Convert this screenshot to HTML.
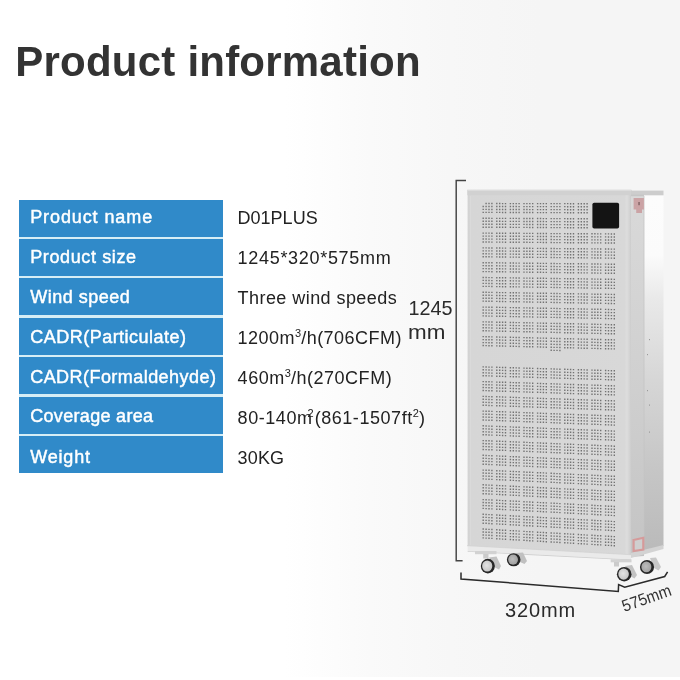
<!DOCTYPE html>
<html><head><meta charset="utf-8">
<style>
html,body{margin:0;padding:0}
body{width:680px;height:680px;overflow:hidden;position:relative;
 background:linear-gradient(to right,#ffffff 0px,#ffffff 285px,#fafafa 370px,#f7f7f7 450px,#f5f5f5 540px,#f5f5f5 680px);
 font-family:"Liberation Sans",sans-serif}
.bot{position:absolute;left:0;top:677px;width:680px;height:3px;background:#fff}
.title{position:absolute;left:15.3px;top:41.2px;font-size:42px;line-height:42px;font-weight:bold;color:#333;letter-spacing:0.22px;white-space:nowrap;filter:grayscale(1)}
.cell{position:absolute;left:19.2px;width:204.3px;height:37.0px;background:#308ac9}
.tl{position:absolute;left:30.2px;font-size:18px;line-height:18px;color:#fff;white-space:nowrap;-webkit-text-stroke:0.45px #fff;filter:grayscale(1)}
.tr{position:absolute;left:237.6px;font-size:18px;line-height:18px;color:#222;white-space:nowrap;filter:grayscale(1)}
sup{font-size:11px;line-height:0;vertical-align:0;position:relative;top:-7px;letter-spacing:0}
sup.sq{margin-left:-5px;margin-right:1px}
.dim{position:absolute;font-size:20px;line-height:20px;color:#2a2a2a;white-space:nowrap;filter:grayscale(1)}
</style></head><body>
<div class="bot"></div>
<div style="position:absolute;left:19.2px;top:199.5px;width:204.3px;height:273.4px;background:#d6eef6"></div>
<div class="title">Product information</div>
<div class="cell" style="top:199.50px"></div><div class="cell" style="top:238.90px"></div><div class="cell" style="top:278.30px"></div><div class="cell" style="top:317.70px"></div><div class="cell" style="top:357.10px"></div><div class="cell" style="top:396.50px"></div><div class="cell" style="top:435.90px"></div><div class="tl" style="top:208.06px;letter-spacing:0.9px">Product name</div><div class="tl" style="top:248.06px;letter-spacing:0.62px">Product size</div><div class="tl" style="top:287.56px;letter-spacing:0.5px">Wind speed</div><div class="tl" style="top:328.26px;letter-spacing:0.49px">CADR(Particulate)</div><div class="tl" style="top:367.96px;letter-spacing:0.45px">CADR(Formaldehyde)</div><div class="tl" style="top:407.36px;letter-spacing:0.32px">Coverage area</div><div class="tl" style="top:447.56px;letter-spacing:0.82px">Weight</div><div class="tr" style="top:209.01px;letter-spacing:0.0px">D01PLUS</div><div class="tr" style="top:249.26px;letter-spacing:0.69px">1245*320*575mm</div><div class="tr" style="top:288.56px;letter-spacing:0.44px">Three wind speeds</div><div class="tr" style="top:329.16px;letter-spacing:0.48px">1200m<sup>3</sup>/h(706CFM)</div><div class="tr" style="top:368.56px;letter-spacing:0.53px">460m<sup>3</sup>/h(270CFM)</div><div class="tr" style="top:408.86px;letter-spacing:0.55px">80-140m<sup class='sq'>2</sup>(861-1507ft<sup>2</sup>)</div><div class="tr" style="top:448.76px;letter-spacing:0.13px">30KG</div>

<svg width="680" height="680" viewBox="0 0 680 680" style="position:absolute;left:0;top:0">
<defs>
 <linearGradient id="face" gradientUnits="userSpaceOnUse" x1="467.6" y1="0" x2="631" y2="0">
  <stop offset="0" stop-color="#d2d2d2"/><stop offset="0.02" stop-color="#d6d6d6"/><stop offset="0.6" stop-color="#d7d7d7"/><stop offset="0.96" stop-color="#d8d8d8"/><stop offset="0.975" stop-color="#dddddd"/><stop offset="0.99" stop-color="#d4d4d4"/><stop offset="1" stop-color="#cccccc"/>
 </linearGradient>
 <linearGradient id="side" gradientUnits="userSpaceOnUse" x1="0" y1="196" x2="0" y2="551">
  <stop offset="0" stop-color="#fcfcfc"/><stop offset="0.166" stop-color="#fbfbfb"/><stop offset="0.29" stop-color="#e9e9e9"/><stop offset="0.52" stop-color="#d6d6d6"/><stop offset="0.77" stop-color="#c6c6c6"/><stop offset="1" stop-color="#bababa"/>
 </linearGradient>
 <linearGradient id="strip" gradientUnits="userSpaceOnUse" x1="0" y1="196" x2="0" y2="556">
  <stop offset="0" stop-color="#d9d9d9"/><stop offset="0.5" stop-color="#d0d0d0"/><stop offset="1" stop-color="#c4c4c4"/>
 </linearGradient>
 <radialGradient id="hubL" cx="0.45" cy="0.45" r="0.6">
  <stop offset="0" stop-color="#e4e4e4"/><stop offset="1" stop-color="#c4c4c4"/>
 </radialGradient>
 <radialGradient id="hubD" cx="0.45" cy="0.45" r="0.6">
  <stop offset="0" stop-color="#bdbdbd"/><stop offset="1" stop-color="#9e9e9e"/>
 </radialGradient>
</defs>
<!-- side panel -->
<polygon points="644,196 663.5,196 663.5,546 644,551" fill="url(#side)"/>
<polygon points="631,196 644,196 644,556 631,557" fill="url(#strip)"/>
<line x1="644" y1="196" x2="644" y2="553" stroke="#c4c4c4" stroke-width="0.8"/>
<!-- side base band -->
<polygon points="631,553 663.5,545 663.5,549 631,558" fill="#d3d3d3"/>
<!-- front face -->
<polygon points="467.6,195 631,195 631,555.0 467.6,546.0" fill="url(#face)"/>
<line x1="470.5" y1="196" x2="470.5" y2="545" stroke="#dadada" stroke-width="0.8"/>

<!-- front base band -->
<polygon points="467.6,546.0 631,555.0 631,559.5 467.6,551" fill="#eaeaea"/>
<line x1="467" y1="545.7" x2="631" y2="554.7" stroke="#d3d3d3" stroke-width="0.8"/>
<polygon points="467.6,551 631,559.5 631,560.3 467.6,551.8" fill="#cfcfcf"/>
<!-- top cap -->
<rect x="467.2" y="189.8" width="164.3" height="5.4" fill="#d1d1d1"/>
<rect x="467.2" y="189.8" width="164.3" height="1.2" fill="#dcdcdc"/>
<rect x="631" y="190.6" width="32.5" height="4.6" fill="#cdcdcd"/>
<rect x="631" y="194.6" width="13" height="1.6" fill="#c6c6c6"/>
<!-- display -->
<rect x="592.4" y="202.8" width="26.7" height="25.8" rx="1.8" fill="#141414"/>
<!-- stickers -->
<path d="M633.6 197.9h10.3v11.7h-1.9v3.5h-5.8v-3.5h-2.6z" fill="#cba3a5"/>
<rect x="638.4" y="202" width="1.3" height="3.2" fill="#7a5c5e"/>
<polygon points="633.6,540 643.3,537.8 643.3,549.5 633.6,551" fill="#cfcfcf" stroke="#d59a9a" stroke-width="2.2"/>
<!-- dots -->
<path d="M485.4 202.8h1.4v1.4h-1.4zM488.3 202.8h1.4v1.4h-1.4zM491.2 202.8h1.4v1.4h-1.4zM482.5 205.8h1.4v1.4h-1.4zM485.4 205.8h1.4v1.4h-1.4zM488.3 205.8h1.4v1.4h-1.4zM491.2 205.8h1.4v1.4h-1.4zM482.5 208.7h1.4v1.4h-1.4zM485.4 208.7h1.4v1.4h-1.4zM488.3 208.8h1.4v1.4h-1.4zM491.2 208.8h1.4v1.4h-1.4zM482.5 211.7h1.4v1.4h-1.4zM485.4 211.7h1.4v1.4h-1.4zM488.3 211.7h1.4v1.4h-1.4zM491.2 211.7h1.4v1.4h-1.4zM496.1 202.8h1.4v1.4h-1.4zM499.0 202.8h1.4v1.4h-1.4zM501.9 202.9h1.4v1.4h-1.4zM504.8 202.9h1.4v1.4h-1.4zM496.1 205.8h1.4v1.4h-1.4zM499.0 205.8h1.4v1.4h-1.4zM501.9 205.8h1.4v1.4h-1.4zM504.8 205.8h1.4v1.4h-1.4zM496.1 208.8h1.4v1.4h-1.4zM499.0 208.8h1.4v1.4h-1.4zM501.9 208.8h1.4v1.4h-1.4zM504.8 208.8h1.4v1.4h-1.4zM496.1 211.7h1.4v1.4h-1.4zM499.0 211.7h1.4v1.4h-1.4zM501.9 211.8h1.4v1.4h-1.4zM504.8 211.8h1.4v1.4h-1.4zM509.7 202.9h1.4v1.4h-1.4zM512.6 202.9h1.4v1.4h-1.4zM515.5 202.9h1.4v1.4h-1.4zM518.4 202.9h1.4v1.4h-1.4zM509.7 205.8h1.4v1.4h-1.4zM512.6 205.8h1.4v1.4h-1.4zM515.5 205.8h1.4v1.4h-1.4zM518.4 205.9h1.4v1.4h-1.4zM509.7 208.8h1.4v1.4h-1.4zM512.6 208.8h1.4v1.4h-1.4zM515.5 208.8h1.4v1.4h-1.4zM518.4 208.8h1.4v1.4h-1.4zM509.7 211.8h1.4v1.4h-1.4zM512.6 211.8h1.4v1.4h-1.4zM515.5 211.8h1.4v1.4h-1.4zM518.4 211.8h1.4v1.4h-1.4zM523.3 202.9h1.4v1.4h-1.4zM526.2 202.9h1.4v1.4h-1.4zM529.1 202.9h1.4v1.4h-1.4zM532.0 202.9h1.4v1.4h-1.4zM523.3 205.9h1.4v1.4h-1.4zM526.2 205.9h1.4v1.4h-1.4zM529.1 205.9h1.4v1.4h-1.4zM532.0 205.9h1.4v1.4h-1.4zM523.3 208.8h1.4v1.4h-1.4zM526.2 208.8h1.4v1.4h-1.4zM529.1 208.9h1.4v1.4h-1.4zM532.0 208.9h1.4v1.4h-1.4zM523.3 211.8h1.4v1.4h-1.4zM526.2 211.8h1.4v1.4h-1.4zM529.1 211.8h1.4v1.4h-1.4zM532.0 211.8h1.4v1.4h-1.4zM536.9 202.9h1.4v1.4h-1.4zM539.8 202.9h1.4v1.4h-1.4zM542.7 202.9h1.4v1.4h-1.4zM545.6 202.9h1.4v1.4h-1.4zM536.9 205.9h1.4v1.4h-1.4zM539.8 205.9h1.4v1.4h-1.4zM542.7 205.9h1.4v1.4h-1.4zM545.6 205.9h1.4v1.4h-1.4zM536.9 208.9h1.4v1.4h-1.4zM539.8 208.9h1.4v1.4h-1.4zM542.7 208.9h1.4v1.4h-1.4zM545.6 208.9h1.4v1.4h-1.4zM536.9 211.9h1.4v1.4h-1.4zM539.8 211.9h1.4v1.4h-1.4zM542.7 211.9h1.4v1.4h-1.4zM545.6 211.9h1.4v1.4h-1.4zM550.5 202.9h1.4v1.4h-1.4zM553.4 202.9h1.4v1.4h-1.4zM556.3 202.9h1.4v1.4h-1.4zM559.2 202.9h1.4v1.4h-1.4zM550.5 205.9h1.4v1.4h-1.4zM553.4 205.9h1.4v1.4h-1.4zM556.3 205.9h1.4v1.4h-1.4zM559.2 205.9h1.4v1.4h-1.4zM550.5 208.9h1.4v1.4h-1.4zM553.4 208.9h1.4v1.4h-1.4zM556.3 208.9h1.4v1.4h-1.4zM559.2 208.9h1.4v1.4h-1.4zM550.5 211.9h1.4v1.4h-1.4zM553.4 211.9h1.4v1.4h-1.4zM556.3 211.9h1.4v1.4h-1.4zM559.2 211.9h1.4v1.4h-1.4zM564.1 202.9h1.4v1.4h-1.4zM567.0 202.9h1.4v1.4h-1.4zM569.9 203.0h1.4v1.4h-1.4zM572.8 203.0h1.4v1.4h-1.4zM564.1 205.9h1.4v1.4h-1.4zM567.0 206.0h1.4v1.4h-1.4zM569.9 206.0h1.4v1.4h-1.4zM572.8 206.0h1.4v1.4h-1.4zM564.1 208.9h1.4v1.4h-1.4zM567.0 209.0h1.4v1.4h-1.4zM569.9 209.0h1.4v1.4h-1.4zM572.8 209.0h1.4v1.4h-1.4zM564.1 211.9h1.4v1.4h-1.4zM567.0 212.0h1.4v1.4h-1.4zM569.9 212.0h1.4v1.4h-1.4zM572.8 212.0h1.4v1.4h-1.4zM577.7 203.0h1.4v1.4h-1.4zM580.6 203.0h1.4v1.4h-1.4zM583.5 203.0h1.4v1.4h-1.4zM586.4 203.0h1.4v1.4h-1.4zM577.7 206.0h1.4v1.4h-1.4zM580.6 206.0h1.4v1.4h-1.4zM583.5 206.0h1.4v1.4h-1.4zM586.4 206.0h1.4v1.4h-1.4zM577.7 209.0h1.4v1.4h-1.4zM580.6 209.0h1.4v1.4h-1.4zM583.5 209.0h1.4v1.4h-1.4zM586.4 209.0h1.4v1.4h-1.4zM577.7 212.0h1.4v1.4h-1.4zM580.6 212.0h1.4v1.4h-1.4zM583.5 212.0h1.4v1.4h-1.4zM586.4 212.0h1.4v1.4h-1.4zM482.5 217.6h1.4v1.4h-1.4zM485.4 217.6h1.4v1.4h-1.4zM488.3 217.6h1.4v1.4h-1.4zM491.2 217.7h1.4v1.4h-1.4zM482.5 220.6h1.4v1.4h-1.4zM485.4 220.6h1.4v1.4h-1.4zM488.3 220.6h1.4v1.4h-1.4zM491.2 220.6h1.4v1.4h-1.4zM482.5 223.5h1.4v1.4h-1.4zM485.4 223.5h1.4v1.4h-1.4zM488.3 223.6h1.4v1.4h-1.4zM491.2 223.6h1.4v1.4h-1.4zM482.5 226.5h1.4v1.4h-1.4zM485.4 226.5h1.4v1.4h-1.4zM488.3 226.5h1.4v1.4h-1.4zM491.2 226.5h1.4v1.4h-1.4zM496.1 217.7h1.4v1.4h-1.4zM499.0 217.7h1.4v1.4h-1.4zM501.9 217.7h1.4v1.4h-1.4zM504.8 217.7h1.4v1.4h-1.4zM496.1 220.6h1.4v1.4h-1.4zM499.0 220.6h1.4v1.4h-1.4zM501.9 220.7h1.4v1.4h-1.4zM504.8 220.7h1.4v1.4h-1.4zM496.1 223.6h1.4v1.4h-1.4zM499.0 223.6h1.4v1.4h-1.4zM501.9 223.6h1.4v1.4h-1.4zM504.8 223.6h1.4v1.4h-1.4zM496.1 226.6h1.4v1.4h-1.4zM499.0 226.6h1.4v1.4h-1.4zM501.9 226.6h1.4v1.4h-1.4zM504.8 226.6h1.4v1.4h-1.4zM509.7 217.7h1.4v1.4h-1.4zM512.6 217.7h1.4v1.4h-1.4zM515.5 217.7h1.4v1.4h-1.4zM518.4 217.8h1.4v1.4h-1.4zM509.7 220.7h1.4v1.4h-1.4zM512.6 220.7h1.4v1.4h-1.4zM515.5 220.7h1.4v1.4h-1.4zM518.4 220.7h1.4v1.4h-1.4zM509.7 223.7h1.4v1.4h-1.4zM512.6 223.7h1.4v1.4h-1.4zM515.5 223.7h1.4v1.4h-1.4zM518.4 223.7h1.4v1.4h-1.4zM509.7 226.6h1.4v1.4h-1.4zM512.6 226.7h1.4v1.4h-1.4zM515.5 226.7h1.4v1.4h-1.4zM518.4 226.7h1.4v1.4h-1.4zM523.3 217.8h1.4v1.4h-1.4zM526.2 217.8h1.4v1.4h-1.4zM529.1 217.8h1.4v1.4h-1.4zM532.0 217.8h1.4v1.4h-1.4zM523.3 220.8h1.4v1.4h-1.4zM526.2 220.8h1.4v1.4h-1.4zM529.1 220.8h1.4v1.4h-1.4zM532.0 220.8h1.4v1.4h-1.4zM523.3 223.7h1.4v1.4h-1.4zM526.2 223.8h1.4v1.4h-1.4zM529.1 223.8h1.4v1.4h-1.4zM532.0 223.8h1.4v1.4h-1.4zM523.3 226.7h1.4v1.4h-1.4zM526.2 226.7h1.4v1.4h-1.4zM529.1 226.8h1.4v1.4h-1.4zM532.0 226.8h1.4v1.4h-1.4zM536.9 217.8h1.4v1.4h-1.4zM539.8 217.8h1.4v1.4h-1.4zM542.7 217.9h1.4v1.4h-1.4zM545.6 217.9h1.4v1.4h-1.4zM536.9 220.8h1.4v1.4h-1.4zM539.8 220.8h1.4v1.4h-1.4zM542.7 220.8h1.4v1.4h-1.4zM545.6 220.9h1.4v1.4h-1.4zM536.9 223.8h1.4v1.4h-1.4zM539.8 223.8h1.4v1.4h-1.4zM542.7 223.8h1.4v1.4h-1.4zM545.6 223.9h1.4v1.4h-1.4zM536.9 226.8h1.4v1.4h-1.4zM539.8 226.8h1.4v1.4h-1.4zM542.7 226.8h1.4v1.4h-1.4zM545.6 226.8h1.4v1.4h-1.4zM550.5 217.9h1.4v1.4h-1.4zM553.4 217.9h1.4v1.4h-1.4zM556.3 217.9h1.4v1.4h-1.4zM559.2 217.9h1.4v1.4h-1.4zM550.5 220.9h1.4v1.4h-1.4zM553.4 220.9h1.4v1.4h-1.4zM556.3 220.9h1.4v1.4h-1.4zM559.2 220.9h1.4v1.4h-1.4zM550.5 223.9h1.4v1.4h-1.4zM553.4 223.9h1.4v1.4h-1.4zM556.3 223.9h1.4v1.4h-1.4zM559.2 223.9h1.4v1.4h-1.4zM550.5 226.9h1.4v1.4h-1.4zM553.4 226.9h1.4v1.4h-1.4zM556.3 226.9h1.4v1.4h-1.4zM559.2 226.9h1.4v1.4h-1.4zM564.1 217.9h1.4v1.4h-1.4zM567.0 218.0h1.4v1.4h-1.4zM569.9 218.0h1.4v1.4h-1.4zM572.8 218.0h1.4v1.4h-1.4zM564.1 220.9h1.4v1.4h-1.4zM567.0 221.0h1.4v1.4h-1.4zM569.9 221.0h1.4v1.4h-1.4zM572.8 221.0h1.4v1.4h-1.4zM564.1 223.9h1.4v1.4h-1.4zM567.0 224.0h1.4v1.4h-1.4zM569.9 224.0h1.4v1.4h-1.4zM572.8 224.0h1.4v1.4h-1.4zM564.1 226.9h1.4v1.4h-1.4zM567.0 227.0h1.4v1.4h-1.4zM569.9 227.0h1.4v1.4h-1.4zM572.8 227.0h1.4v1.4h-1.4zM577.7 218.0h1.4v1.4h-1.4zM580.6 218.0h1.4v1.4h-1.4zM583.5 218.0h1.4v1.4h-1.4zM586.4 218.0h1.4v1.4h-1.4zM577.7 221.0h1.4v1.4h-1.4zM580.6 221.0h1.4v1.4h-1.4zM583.5 221.0h1.4v1.4h-1.4zM586.4 221.0h1.4v1.4h-1.4zM577.7 224.0h1.4v1.4h-1.4zM580.6 224.0h1.4v1.4h-1.4zM583.5 224.0h1.4v1.4h-1.4zM586.4 224.1h1.4v1.4h-1.4zM577.7 227.0h1.4v1.4h-1.4zM580.6 227.0h1.4v1.4h-1.4zM583.5 227.1h1.4v1.4h-1.4zM586.4 227.1h1.4v1.4h-1.4zM482.5 232.4h1.4v1.4h-1.4zM485.4 232.4h1.4v1.4h-1.4zM488.3 232.4h1.4v1.4h-1.4zM491.2 232.5h1.4v1.4h-1.4zM482.5 235.4h1.4v1.4h-1.4zM485.4 235.4h1.4v1.4h-1.4zM488.3 235.4h1.4v1.4h-1.4zM491.2 235.4h1.4v1.4h-1.4zM482.5 238.3h1.4v1.4h-1.4zM485.4 238.3h1.4v1.4h-1.4zM488.3 238.4h1.4v1.4h-1.4zM491.2 238.4h1.4v1.4h-1.4zM482.5 241.3h1.4v1.4h-1.4zM485.4 241.3h1.4v1.4h-1.4zM488.3 241.3h1.4v1.4h-1.4zM491.2 241.4h1.4v1.4h-1.4zM496.1 232.5h1.4v1.4h-1.4zM499.0 232.5h1.4v1.4h-1.4zM501.9 232.5h1.4v1.4h-1.4zM504.8 232.6h1.4v1.4h-1.4zM496.1 235.5h1.4v1.4h-1.4zM499.0 235.5h1.4v1.4h-1.4zM501.9 235.5h1.4v1.4h-1.4zM504.8 235.5h1.4v1.4h-1.4zM496.1 238.4h1.4v1.4h-1.4zM499.0 238.4h1.4v1.4h-1.4zM501.9 238.5h1.4v1.4h-1.4zM504.8 238.5h1.4v1.4h-1.4zM496.1 241.4h1.4v1.4h-1.4zM499.0 241.4h1.4v1.4h-1.4zM501.9 241.4h1.4v1.4h-1.4zM504.8 241.5h1.4v1.4h-1.4zM509.7 232.6h1.4v1.4h-1.4zM512.6 232.6h1.4v1.4h-1.4zM515.5 232.6h1.4v1.4h-1.4zM518.4 232.6h1.4v1.4h-1.4zM509.7 235.6h1.4v1.4h-1.4zM512.6 235.6h1.4v1.4h-1.4zM515.5 235.6h1.4v1.4h-1.4zM518.4 235.6h1.4v1.4h-1.4zM509.7 238.5h1.4v1.4h-1.4zM512.6 238.6h1.4v1.4h-1.4zM515.5 238.6h1.4v1.4h-1.4zM518.4 238.6h1.4v1.4h-1.4zM509.7 241.5h1.4v1.4h-1.4zM512.6 241.5h1.4v1.4h-1.4zM515.5 241.6h1.4v1.4h-1.4zM518.4 241.6h1.4v1.4h-1.4zM523.3 232.7h1.4v1.4h-1.4zM526.2 232.7h1.4v1.4h-1.4zM529.1 232.7h1.4v1.4h-1.4zM532.0 232.7h1.4v1.4h-1.4zM523.3 235.7h1.4v1.4h-1.4zM526.2 235.7h1.4v1.4h-1.4zM529.1 235.7h1.4v1.4h-1.4zM532.0 235.7h1.4v1.4h-1.4zM523.3 238.6h1.4v1.4h-1.4zM526.2 238.7h1.4v1.4h-1.4zM529.1 238.7h1.4v1.4h-1.4zM532.0 238.7h1.4v1.4h-1.4zM523.3 241.6h1.4v1.4h-1.4zM526.2 241.6h1.4v1.4h-1.4zM529.1 241.7h1.4v1.4h-1.4zM532.0 241.7h1.4v1.4h-1.4zM536.9 232.8h1.4v1.4h-1.4zM539.8 232.8h1.4v1.4h-1.4zM542.7 232.8h1.4v1.4h-1.4zM545.6 232.8h1.4v1.4h-1.4zM536.9 235.8h1.4v1.4h-1.4zM539.8 235.8h1.4v1.4h-1.4zM542.7 235.8h1.4v1.4h-1.4zM545.6 235.8h1.4v1.4h-1.4zM536.9 238.7h1.4v1.4h-1.4zM539.8 238.8h1.4v1.4h-1.4zM542.7 238.8h1.4v1.4h-1.4zM545.6 238.8h1.4v1.4h-1.4zM536.9 241.7h1.4v1.4h-1.4zM539.8 241.7h1.4v1.4h-1.4zM542.7 241.8h1.4v1.4h-1.4zM545.6 241.8h1.4v1.4h-1.4zM550.5 232.9h1.4v1.4h-1.4zM553.4 232.9h1.4v1.4h-1.4zM556.3 232.9h1.4v1.4h-1.4zM559.2 232.9h1.4v1.4h-1.4zM550.5 235.8h1.4v1.4h-1.4zM553.4 235.9h1.4v1.4h-1.4zM556.3 235.9h1.4v1.4h-1.4zM559.2 235.9h1.4v1.4h-1.4zM550.5 238.8h1.4v1.4h-1.4zM553.4 238.9h1.4v1.4h-1.4zM556.3 238.9h1.4v1.4h-1.4zM559.2 238.9h1.4v1.4h-1.4zM550.5 241.8h1.4v1.4h-1.4zM553.4 241.9h1.4v1.4h-1.4zM556.3 241.9h1.4v1.4h-1.4zM559.2 241.9h1.4v1.4h-1.4zM564.1 232.9h1.4v1.4h-1.4zM567.0 233.0h1.4v1.4h-1.4zM569.9 233.0h1.4v1.4h-1.4zM572.8 233.0h1.4v1.4h-1.4zM564.1 235.9h1.4v1.4h-1.4zM567.0 236.0h1.4v1.4h-1.4zM569.9 236.0h1.4v1.4h-1.4zM572.8 236.0h1.4v1.4h-1.4zM564.1 238.9h1.4v1.4h-1.4zM567.0 239.0h1.4v1.4h-1.4zM569.9 239.0h1.4v1.4h-1.4zM572.8 239.0h1.4v1.4h-1.4zM564.1 241.9h1.4v1.4h-1.4zM567.0 242.0h1.4v1.4h-1.4zM569.9 242.0h1.4v1.4h-1.4zM572.8 242.0h1.4v1.4h-1.4zM577.7 233.0h1.4v1.4h-1.4zM580.6 233.1h1.4v1.4h-1.4zM583.5 233.1h1.4v1.4h-1.4zM586.4 233.1h1.4v1.4h-1.4zM577.7 236.0h1.4v1.4h-1.4zM580.6 236.1h1.4v1.4h-1.4zM583.5 236.1h1.4v1.4h-1.4zM586.4 236.1h1.4v1.4h-1.4zM577.7 239.0h1.4v1.4h-1.4zM580.6 239.1h1.4v1.4h-1.4zM583.5 239.1h1.4v1.4h-1.4zM586.4 239.1h1.4v1.4h-1.4zM577.7 242.1h1.4v1.4h-1.4zM580.6 242.1h1.4v1.4h-1.4zM583.5 242.1h1.4v1.4h-1.4zM586.4 242.1h1.4v1.4h-1.4zM591.3 233.1h1.4v1.4h-1.4zM594.2 233.1h1.4v1.4h-1.4zM597.1 233.2h1.4v1.4h-1.4zM600.0 233.2h1.4v1.4h-1.4zM591.3 236.1h1.4v1.4h-1.4zM594.2 236.2h1.4v1.4h-1.4zM597.1 236.2h1.4v1.4h-1.4zM600.0 236.2h1.4v1.4h-1.4zM591.3 239.2h1.4v1.4h-1.4zM594.2 239.2h1.4v1.4h-1.4zM597.1 239.2h1.4v1.4h-1.4zM600.0 239.2h1.4v1.4h-1.4zM591.3 242.2h1.4v1.4h-1.4zM594.2 242.2h1.4v1.4h-1.4zM597.1 242.2h1.4v1.4h-1.4zM600.0 242.2h1.4v1.4h-1.4zM604.9 233.2h1.4v1.4h-1.4zM607.8 233.2h1.4v1.4h-1.4zM610.7 233.3h1.4v1.4h-1.4zM613.6 233.3h1.4v1.4h-1.4zM604.9 236.2h1.4v1.4h-1.4zM607.8 236.3h1.4v1.4h-1.4zM610.7 236.3h1.4v1.4h-1.4zM613.6 236.3h1.4v1.4h-1.4zM604.9 239.3h1.4v1.4h-1.4zM607.8 239.3h1.4v1.4h-1.4zM610.7 239.3h1.4v1.4h-1.4zM613.6 239.3h1.4v1.4h-1.4zM604.9 242.3h1.4v1.4h-1.4zM607.8 242.3h1.4v1.4h-1.4zM610.7 242.3h1.4v1.4h-1.4zM613.6 242.3h1.4v1.4h-1.4zM482.5 247.2h1.4v1.4h-1.4zM485.4 247.2h1.4v1.4h-1.4zM488.3 247.3h1.4v1.4h-1.4zM491.2 247.3h1.4v1.4h-1.4zM482.5 250.2h1.4v1.4h-1.4zM485.4 250.2h1.4v1.4h-1.4zM488.3 250.2h1.4v1.4h-1.4zM491.2 250.2h1.4v1.4h-1.4zM482.5 253.1h1.4v1.4h-1.4zM485.4 253.1h1.4v1.4h-1.4zM488.3 253.2h1.4v1.4h-1.4zM491.2 253.2h1.4v1.4h-1.4zM482.5 256.1h1.4v1.4h-1.4zM485.4 256.1h1.4v1.4h-1.4zM488.3 256.1h1.4v1.4h-1.4zM491.2 256.2h1.4v1.4h-1.4zM496.1 247.3h1.4v1.4h-1.4zM499.0 247.3h1.4v1.4h-1.4zM501.9 247.4h1.4v1.4h-1.4zM504.8 247.4h1.4v1.4h-1.4zM496.1 250.3h1.4v1.4h-1.4zM499.0 250.3h1.4v1.4h-1.4zM501.9 250.3h1.4v1.4h-1.4zM504.8 250.4h1.4v1.4h-1.4zM496.1 253.3h1.4v1.4h-1.4zM499.0 253.3h1.4v1.4h-1.4zM501.9 253.3h1.4v1.4h-1.4zM504.8 253.3h1.4v1.4h-1.4zM496.1 256.2h1.4v1.4h-1.4zM499.0 256.3h1.4v1.4h-1.4zM501.9 256.3h1.4v1.4h-1.4zM504.8 256.3h1.4v1.4h-1.4zM509.7 247.4h1.4v1.4h-1.4zM512.6 247.5h1.4v1.4h-1.4zM515.5 247.5h1.4v1.4h-1.4zM518.4 247.5h1.4v1.4h-1.4zM509.7 250.4h1.4v1.4h-1.4zM512.6 250.4h1.4v1.4h-1.4zM515.5 250.5h1.4v1.4h-1.4zM518.4 250.5h1.4v1.4h-1.4zM509.7 253.4h1.4v1.4h-1.4zM512.6 253.4h1.4v1.4h-1.4zM515.5 253.5h1.4v1.4h-1.4zM518.4 253.5h1.4v1.4h-1.4zM509.7 256.4h1.4v1.4h-1.4zM512.6 256.4h1.4v1.4h-1.4zM515.5 256.4h1.4v1.4h-1.4zM518.4 256.5h1.4v1.4h-1.4zM523.3 247.6h1.4v1.4h-1.4zM526.2 247.6h1.4v1.4h-1.4zM529.1 247.6h1.4v1.4h-1.4zM532.0 247.7h1.4v1.4h-1.4zM523.3 250.6h1.4v1.4h-1.4zM526.2 250.6h1.4v1.4h-1.4zM529.1 250.6h1.4v1.4h-1.4zM532.0 250.6h1.4v1.4h-1.4zM523.3 253.5h1.4v1.4h-1.4zM526.2 253.6h1.4v1.4h-1.4zM529.1 253.6h1.4v1.4h-1.4zM532.0 253.6h1.4v1.4h-1.4zM523.3 256.5h1.4v1.4h-1.4zM526.2 256.5h1.4v1.4h-1.4zM529.1 256.6h1.4v1.4h-1.4zM532.0 256.6h1.4v1.4h-1.4zM536.9 247.7h1.4v1.4h-1.4zM539.8 247.7h1.4v1.4h-1.4zM542.7 247.8h1.4v1.4h-1.4zM545.6 247.8h1.4v1.4h-1.4zM536.9 250.7h1.4v1.4h-1.4zM539.8 250.7h1.4v1.4h-1.4zM542.7 250.7h1.4v1.4h-1.4zM545.6 250.8h1.4v1.4h-1.4zM536.9 253.7h1.4v1.4h-1.4zM539.8 253.7h1.4v1.4h-1.4zM542.7 253.7h1.4v1.4h-1.4zM545.6 253.8h1.4v1.4h-1.4zM536.9 256.7h1.4v1.4h-1.4zM539.8 256.7h1.4v1.4h-1.4zM542.7 256.7h1.4v1.4h-1.4zM545.6 256.7h1.4v1.4h-1.4zM550.5 247.8h1.4v1.4h-1.4zM553.4 247.8h1.4v1.4h-1.4zM556.3 247.9h1.4v1.4h-1.4zM559.2 247.9h1.4v1.4h-1.4zM550.5 250.8h1.4v1.4h-1.4zM553.4 250.8h1.4v1.4h-1.4zM556.3 250.9h1.4v1.4h-1.4zM559.2 250.9h1.4v1.4h-1.4zM550.5 253.8h1.4v1.4h-1.4zM553.4 253.8h1.4v1.4h-1.4zM556.3 253.9h1.4v1.4h-1.4zM559.2 253.9h1.4v1.4h-1.4zM550.5 256.8h1.4v1.4h-1.4zM553.4 256.8h1.4v1.4h-1.4zM556.3 256.9h1.4v1.4h-1.4zM559.2 256.9h1.4v1.4h-1.4zM564.1 247.9h1.4v1.4h-1.4zM567.0 248.0h1.4v1.4h-1.4zM569.9 248.0h1.4v1.4h-1.4zM572.8 248.0h1.4v1.4h-1.4zM564.1 250.9h1.4v1.4h-1.4zM567.0 251.0h1.4v1.4h-1.4zM569.9 251.0h1.4v1.4h-1.4zM572.8 251.0h1.4v1.4h-1.4zM564.1 253.9h1.4v1.4h-1.4zM567.0 254.0h1.4v1.4h-1.4zM569.9 254.0h1.4v1.4h-1.4zM572.8 254.0h1.4v1.4h-1.4zM564.1 256.9h1.4v1.4h-1.4zM567.0 257.0h1.4v1.4h-1.4zM569.9 257.0h1.4v1.4h-1.4zM572.8 257.0h1.4v1.4h-1.4zM577.7 248.1h1.4v1.4h-1.4zM580.6 248.1h1.4v1.4h-1.4zM583.5 248.1h1.4v1.4h-1.4zM586.4 248.2h1.4v1.4h-1.4zM577.7 251.1h1.4v1.4h-1.4zM580.6 251.1h1.4v1.4h-1.4zM583.5 251.1h1.4v1.4h-1.4zM586.4 251.2h1.4v1.4h-1.4zM577.7 254.1h1.4v1.4h-1.4zM580.6 254.1h1.4v1.4h-1.4zM583.5 254.1h1.4v1.4h-1.4zM586.4 254.2h1.4v1.4h-1.4zM577.7 257.1h1.4v1.4h-1.4zM580.6 257.1h1.4v1.4h-1.4zM583.5 257.2h1.4v1.4h-1.4zM586.4 257.2h1.4v1.4h-1.4zM591.3 248.2h1.4v1.4h-1.4zM594.2 248.2h1.4v1.4h-1.4zM597.1 248.2h1.4v1.4h-1.4zM600.0 248.3h1.4v1.4h-1.4zM591.3 251.2h1.4v1.4h-1.4zM594.2 251.2h1.4v1.4h-1.4zM597.1 251.3h1.4v1.4h-1.4zM600.0 251.3h1.4v1.4h-1.4zM591.3 254.2h1.4v1.4h-1.4zM594.2 254.3h1.4v1.4h-1.4zM597.1 254.3h1.4v1.4h-1.4zM600.0 254.3h1.4v1.4h-1.4zM591.3 257.2h1.4v1.4h-1.4zM594.2 257.3h1.4v1.4h-1.4zM597.1 257.3h1.4v1.4h-1.4zM600.0 257.3h1.4v1.4h-1.4zM604.9 248.3h1.4v1.4h-1.4zM607.8 248.3h1.4v1.4h-1.4zM610.7 248.4h1.4v1.4h-1.4zM613.6 248.4h1.4v1.4h-1.4zM604.9 251.3h1.4v1.4h-1.4zM607.8 251.4h1.4v1.4h-1.4zM610.7 251.4h1.4v1.4h-1.4zM613.6 251.4h1.4v1.4h-1.4zM604.9 254.4h1.4v1.4h-1.4zM607.8 254.4h1.4v1.4h-1.4zM610.7 254.4h1.4v1.4h-1.4zM613.6 254.5h1.4v1.4h-1.4zM604.9 257.4h1.4v1.4h-1.4zM607.8 257.4h1.4v1.4h-1.4zM610.7 257.4h1.4v1.4h-1.4zM613.6 257.5h1.4v1.4h-1.4zM482.5 262.0h1.4v1.4h-1.4zM485.4 262.0h1.4v1.4h-1.4zM488.3 262.1h1.4v1.4h-1.4zM491.2 262.1h1.4v1.4h-1.4zM482.5 264.9h1.4v1.4h-1.4zM485.4 265.0h1.4v1.4h-1.4zM488.3 265.0h1.4v1.4h-1.4zM491.2 265.1h1.4v1.4h-1.4zM482.5 267.9h1.4v1.4h-1.4zM485.4 267.9h1.4v1.4h-1.4zM488.3 268.0h1.4v1.4h-1.4zM491.2 268.0h1.4v1.4h-1.4zM482.5 270.9h1.4v1.4h-1.4zM485.4 270.9h1.4v1.4h-1.4zM488.3 270.9h1.4v1.4h-1.4zM491.2 271.0h1.4v1.4h-1.4zM496.1 262.1h1.4v1.4h-1.4zM499.0 262.2h1.4v1.4h-1.4zM501.9 262.2h1.4v1.4h-1.4zM504.8 262.3h1.4v1.4h-1.4zM496.1 265.1h1.4v1.4h-1.4zM499.0 265.2h1.4v1.4h-1.4zM501.9 265.2h1.4v1.4h-1.4zM504.8 265.2h1.4v1.4h-1.4zM496.1 268.1h1.4v1.4h-1.4zM499.0 268.1h1.4v1.4h-1.4zM501.9 268.2h1.4v1.4h-1.4zM504.8 268.2h1.4v1.4h-1.4zM496.1 271.0h1.4v1.4h-1.4zM499.0 271.1h1.4v1.4h-1.4zM501.9 271.1h1.4v1.4h-1.4zM504.8 271.2h1.4v1.4h-1.4zM509.7 262.3h1.4v1.4h-1.4zM512.6 262.3h1.4v1.4h-1.4zM515.5 262.4h1.4v1.4h-1.4zM518.4 262.4h1.4v1.4h-1.4zM509.7 265.3h1.4v1.4h-1.4zM512.6 265.3h1.4v1.4h-1.4zM515.5 265.4h1.4v1.4h-1.4zM518.4 265.4h1.4v1.4h-1.4zM509.7 268.3h1.4v1.4h-1.4zM512.6 268.3h1.4v1.4h-1.4zM515.5 268.3h1.4v1.4h-1.4zM518.4 268.4h1.4v1.4h-1.4zM509.7 271.2h1.4v1.4h-1.4zM512.6 271.3h1.4v1.4h-1.4zM515.5 271.3h1.4v1.4h-1.4zM518.4 271.3h1.4v1.4h-1.4zM523.3 262.5h1.4v1.4h-1.4zM526.2 262.5h1.4v1.4h-1.4zM529.1 262.5h1.4v1.4h-1.4zM532.0 262.6h1.4v1.4h-1.4zM523.3 265.4h1.4v1.4h-1.4zM526.2 265.5h1.4v1.4h-1.4zM529.1 265.5h1.4v1.4h-1.4zM532.0 265.6h1.4v1.4h-1.4zM523.3 268.4h1.4v1.4h-1.4zM526.2 268.5h1.4v1.4h-1.4zM529.1 268.5h1.4v1.4h-1.4zM532.0 268.5h1.4v1.4h-1.4zM523.3 271.4h1.4v1.4h-1.4zM526.2 271.4h1.4v1.4h-1.4zM529.1 271.5h1.4v1.4h-1.4zM532.0 271.5h1.4v1.4h-1.4zM536.9 262.6h1.4v1.4h-1.4zM539.8 262.7h1.4v1.4h-1.4zM542.7 262.7h1.4v1.4h-1.4zM545.6 262.7h1.4v1.4h-1.4zM536.9 265.6h1.4v1.4h-1.4zM539.8 265.6h1.4v1.4h-1.4zM542.7 265.7h1.4v1.4h-1.4zM545.6 265.7h1.4v1.4h-1.4zM536.9 268.6h1.4v1.4h-1.4zM539.8 268.6h1.4v1.4h-1.4zM542.7 268.7h1.4v1.4h-1.4zM545.6 268.7h1.4v1.4h-1.4zM536.9 271.6h1.4v1.4h-1.4zM539.8 271.6h1.4v1.4h-1.4zM542.7 271.7h1.4v1.4h-1.4zM545.6 271.7h1.4v1.4h-1.4zM550.5 262.8h1.4v1.4h-1.4zM553.4 262.8h1.4v1.4h-1.4zM556.3 262.9h1.4v1.4h-1.4zM559.2 262.9h1.4v1.4h-1.4zM550.5 265.8h1.4v1.4h-1.4zM553.4 265.8h1.4v1.4h-1.4zM556.3 265.9h1.4v1.4h-1.4zM559.2 265.9h1.4v1.4h-1.4zM550.5 268.8h1.4v1.4h-1.4zM553.4 268.8h1.4v1.4h-1.4zM556.3 268.8h1.4v1.4h-1.4zM559.2 268.9h1.4v1.4h-1.4zM550.5 271.8h1.4v1.4h-1.4zM553.4 271.8h1.4v1.4h-1.4zM556.3 271.8h1.4v1.4h-1.4zM559.2 271.9h1.4v1.4h-1.4zM564.1 262.9h1.4v1.4h-1.4zM567.0 263.0h1.4v1.4h-1.4zM569.9 263.0h1.4v1.4h-1.4zM572.8 263.0h1.4v1.4h-1.4zM564.1 265.9h1.4v1.4h-1.4zM567.0 266.0h1.4v1.4h-1.4zM569.9 266.0h1.4v1.4h-1.4zM572.8 266.1h1.4v1.4h-1.4zM564.1 268.9h1.4v1.4h-1.4zM567.0 269.0h1.4v1.4h-1.4zM569.9 269.0h1.4v1.4h-1.4zM572.8 269.1h1.4v1.4h-1.4zM564.1 271.9h1.4v1.4h-1.4zM567.0 272.0h1.4v1.4h-1.4zM569.9 272.0h1.4v1.4h-1.4zM572.8 272.1h1.4v1.4h-1.4zM577.7 263.1h1.4v1.4h-1.4zM580.6 263.1h1.4v1.4h-1.4zM583.5 263.2h1.4v1.4h-1.4zM586.4 263.2h1.4v1.4h-1.4zM577.7 266.1h1.4v1.4h-1.4zM580.6 266.1h1.4v1.4h-1.4zM583.5 266.2h1.4v1.4h-1.4zM586.4 266.2h1.4v1.4h-1.4zM577.7 269.1h1.4v1.4h-1.4zM580.6 269.2h1.4v1.4h-1.4zM583.5 269.2h1.4v1.4h-1.4zM586.4 269.2h1.4v1.4h-1.4zM577.7 272.1h1.4v1.4h-1.4zM580.6 272.2h1.4v1.4h-1.4zM583.5 272.2h1.4v1.4h-1.4zM586.4 272.2h1.4v1.4h-1.4zM591.3 263.3h1.4v1.4h-1.4zM594.2 263.3h1.4v1.4h-1.4zM597.1 263.3h1.4v1.4h-1.4zM600.0 263.4h1.4v1.4h-1.4zM591.3 266.3h1.4v1.4h-1.4zM594.2 266.3h1.4v1.4h-1.4zM597.1 266.4h1.4v1.4h-1.4zM600.0 266.4h1.4v1.4h-1.4zM591.3 269.3h1.4v1.4h-1.4zM594.2 269.3h1.4v1.4h-1.4zM597.1 269.4h1.4v1.4h-1.4zM600.0 269.4h1.4v1.4h-1.4zM591.3 272.3h1.4v1.4h-1.4zM594.2 272.3h1.4v1.4h-1.4zM597.1 272.4h1.4v1.4h-1.4zM600.0 272.4h1.4v1.4h-1.4zM604.9 263.4h1.4v1.4h-1.4zM607.8 263.5h1.4v1.4h-1.4zM610.7 263.5h1.4v1.4h-1.4zM613.6 263.5h1.4v1.4h-1.4zM604.9 266.4h1.4v1.4h-1.4zM607.8 266.5h1.4v1.4h-1.4zM610.7 266.5h1.4v1.4h-1.4zM613.6 266.6h1.4v1.4h-1.4zM604.9 269.5h1.4v1.4h-1.4zM607.8 269.5h1.4v1.4h-1.4zM610.7 269.5h1.4v1.4h-1.4zM613.6 269.6h1.4v1.4h-1.4zM604.9 272.5h1.4v1.4h-1.4zM607.8 272.5h1.4v1.4h-1.4zM610.7 272.6h1.4v1.4h-1.4zM613.6 272.6h1.4v1.4h-1.4zM482.5 276.8h1.4v1.4h-1.4zM485.4 276.8h1.4v1.4h-1.4zM488.3 276.9h1.4v1.4h-1.4zM491.2 276.9h1.4v1.4h-1.4zM482.5 279.7h1.4v1.4h-1.4zM485.4 279.8h1.4v1.4h-1.4zM488.3 279.8h1.4v1.4h-1.4zM491.2 279.9h1.4v1.4h-1.4zM482.5 282.7h1.4v1.4h-1.4zM485.4 282.7h1.4v1.4h-1.4zM488.3 282.8h1.4v1.4h-1.4zM491.2 282.8h1.4v1.4h-1.4zM482.5 285.7h1.4v1.4h-1.4zM485.4 285.7h1.4v1.4h-1.4zM488.3 285.7h1.4v1.4h-1.4zM491.2 285.8h1.4v1.4h-1.4zM496.1 277.0h1.4v1.4h-1.4zM499.0 277.0h1.4v1.4h-1.4zM501.9 277.1h1.4v1.4h-1.4zM504.8 277.1h1.4v1.4h-1.4zM496.1 279.9h1.4v1.4h-1.4zM499.0 280.0h1.4v1.4h-1.4zM501.9 280.0h1.4v1.4h-1.4zM504.8 280.1h1.4v1.4h-1.4zM496.1 282.9h1.4v1.4h-1.4zM499.0 283.0h1.4v1.4h-1.4zM501.9 283.0h1.4v1.4h-1.4zM504.8 283.0h1.4v1.4h-1.4zM496.1 285.9h1.4v1.4h-1.4zM499.0 285.9h1.4v1.4h-1.4zM501.9 286.0h1.4v1.4h-1.4zM504.8 286.0h1.4v1.4h-1.4zM509.7 277.2h1.4v1.4h-1.4zM512.6 277.2h1.4v1.4h-1.4zM515.5 277.3h1.4v1.4h-1.4zM518.4 277.3h1.4v1.4h-1.4zM509.7 280.1h1.4v1.4h-1.4zM512.6 280.2h1.4v1.4h-1.4zM515.5 280.2h1.4v1.4h-1.4zM518.4 280.3h1.4v1.4h-1.4zM509.7 283.1h1.4v1.4h-1.4zM512.6 283.2h1.4v1.4h-1.4zM515.5 283.2h1.4v1.4h-1.4zM518.4 283.2h1.4v1.4h-1.4zM509.7 286.1h1.4v1.4h-1.4zM512.6 286.1h1.4v1.4h-1.4zM515.5 286.2h1.4v1.4h-1.4zM518.4 286.2h1.4v1.4h-1.4zM523.3 277.4h1.4v1.4h-1.4zM526.2 277.4h1.4v1.4h-1.4zM529.1 277.4h1.4v1.4h-1.4zM532.0 277.5h1.4v1.4h-1.4zM523.3 280.3h1.4v1.4h-1.4zM526.2 280.4h1.4v1.4h-1.4zM529.1 280.4h1.4v1.4h-1.4zM532.0 280.5h1.4v1.4h-1.4zM523.3 283.3h1.4v1.4h-1.4zM526.2 283.4h1.4v1.4h-1.4zM529.1 283.4h1.4v1.4h-1.4zM532.0 283.5h1.4v1.4h-1.4zM523.3 286.3h1.4v1.4h-1.4zM526.2 286.3h1.4v1.4h-1.4zM529.1 286.4h1.4v1.4h-1.4zM532.0 286.4h1.4v1.4h-1.4zM536.9 277.6h1.4v1.4h-1.4zM539.8 277.6h1.4v1.4h-1.4zM542.7 277.6h1.4v1.4h-1.4zM545.6 277.7h1.4v1.4h-1.4zM536.9 280.5h1.4v1.4h-1.4zM539.8 280.6h1.4v1.4h-1.4zM542.7 280.6h1.4v1.4h-1.4zM545.6 280.7h1.4v1.4h-1.4zM536.9 283.5h1.4v1.4h-1.4zM539.8 283.6h1.4v1.4h-1.4zM542.7 283.6h1.4v1.4h-1.4zM545.6 283.7h1.4v1.4h-1.4zM536.9 286.5h1.4v1.4h-1.4zM539.8 286.6h1.4v1.4h-1.4zM542.7 286.6h1.4v1.4h-1.4zM545.6 286.7h1.4v1.4h-1.4zM550.5 277.8h1.4v1.4h-1.4zM553.4 277.8h1.4v1.4h-1.4zM556.3 277.8h1.4v1.4h-1.4zM559.2 277.9h1.4v1.4h-1.4zM550.5 280.7h1.4v1.4h-1.4zM553.4 280.8h1.4v1.4h-1.4zM556.3 280.8h1.4v1.4h-1.4zM559.2 280.9h1.4v1.4h-1.4zM550.5 283.7h1.4v1.4h-1.4zM553.4 283.8h1.4v1.4h-1.4zM556.3 283.8h1.4v1.4h-1.4zM559.2 283.9h1.4v1.4h-1.4zM550.5 286.7h1.4v1.4h-1.4zM553.4 286.8h1.4v1.4h-1.4zM556.3 286.8h1.4v1.4h-1.4zM559.2 286.9h1.4v1.4h-1.4zM564.1 277.9h1.4v1.4h-1.4zM567.0 278.0h1.4v1.4h-1.4zM569.9 278.0h1.4v1.4h-1.4zM572.8 278.1h1.4v1.4h-1.4zM564.1 280.9h1.4v1.4h-1.4zM567.0 281.0h1.4v1.4h-1.4zM569.9 281.0h1.4v1.4h-1.4zM572.8 281.1h1.4v1.4h-1.4zM564.1 283.9h1.4v1.4h-1.4zM567.0 284.0h1.4v1.4h-1.4zM569.9 284.0h1.4v1.4h-1.4zM572.8 284.1h1.4v1.4h-1.4zM564.1 286.9h1.4v1.4h-1.4zM567.0 287.0h1.4v1.4h-1.4zM569.9 287.0h1.4v1.4h-1.4zM572.8 287.1h1.4v1.4h-1.4zM577.7 278.1h1.4v1.4h-1.4zM580.6 278.2h1.4v1.4h-1.4zM583.5 278.2h1.4v1.4h-1.4zM586.4 278.3h1.4v1.4h-1.4zM577.7 281.1h1.4v1.4h-1.4zM580.6 281.2h1.4v1.4h-1.4zM583.5 281.2h1.4v1.4h-1.4zM586.4 281.3h1.4v1.4h-1.4zM577.7 284.2h1.4v1.4h-1.4zM580.6 284.2h1.4v1.4h-1.4zM583.5 284.2h1.4v1.4h-1.4zM586.4 284.3h1.4v1.4h-1.4zM577.7 287.2h1.4v1.4h-1.4zM580.6 287.2h1.4v1.4h-1.4zM583.5 287.3h1.4v1.4h-1.4zM586.4 287.3h1.4v1.4h-1.4zM591.3 278.3h1.4v1.4h-1.4zM594.2 278.4h1.4v1.4h-1.4zM597.1 278.4h1.4v1.4h-1.4zM600.0 278.5h1.4v1.4h-1.4zM591.3 281.4h1.4v1.4h-1.4zM594.2 281.4h1.4v1.4h-1.4zM597.1 281.4h1.4v1.4h-1.4zM600.0 281.5h1.4v1.4h-1.4zM591.3 284.4h1.4v1.4h-1.4zM594.2 284.4h1.4v1.4h-1.4zM597.1 284.5h1.4v1.4h-1.4zM600.0 284.5h1.4v1.4h-1.4zM591.3 287.4h1.4v1.4h-1.4zM594.2 287.4h1.4v1.4h-1.4zM597.1 287.5h1.4v1.4h-1.4zM600.0 287.5h1.4v1.4h-1.4zM604.9 278.5h1.4v1.4h-1.4zM607.8 278.6h1.4v1.4h-1.4zM610.7 278.6h1.4v1.4h-1.4zM613.6 278.7h1.4v1.4h-1.4zM604.9 281.6h1.4v1.4h-1.4zM607.8 281.6h1.4v1.4h-1.4zM610.7 281.6h1.4v1.4h-1.4zM613.6 281.7h1.4v1.4h-1.4zM604.9 284.6h1.4v1.4h-1.4zM607.8 284.6h1.4v1.4h-1.4zM610.7 284.7h1.4v1.4h-1.4zM613.6 284.7h1.4v1.4h-1.4zM604.9 287.6h1.4v1.4h-1.4zM607.8 287.6h1.4v1.4h-1.4zM610.7 287.7h1.4v1.4h-1.4zM613.6 287.7h1.4v1.4h-1.4zM482.5 291.6h1.4v1.4h-1.4zM485.4 291.6h1.4v1.4h-1.4zM488.3 291.7h1.4v1.4h-1.4zM491.2 291.7h1.4v1.4h-1.4zM482.5 294.5h1.4v1.4h-1.4zM485.4 294.6h1.4v1.4h-1.4zM488.3 294.6h1.4v1.4h-1.4zM491.2 294.7h1.4v1.4h-1.4zM482.5 297.5h1.4v1.4h-1.4zM485.4 297.5h1.4v1.4h-1.4zM488.3 297.6h1.4v1.4h-1.4zM491.2 297.6h1.4v1.4h-1.4zM482.5 300.4h1.4v1.4h-1.4zM485.4 300.5h1.4v1.4h-1.4zM488.3 300.6h1.4v1.4h-1.4zM491.2 300.6h1.4v1.4h-1.4zM496.1 291.8h1.4v1.4h-1.4zM499.0 291.9h1.4v1.4h-1.4zM501.9 291.9h1.4v1.4h-1.4zM504.8 291.9h1.4v1.4h-1.4zM496.1 294.8h1.4v1.4h-1.4zM499.0 294.8h1.4v1.4h-1.4zM501.9 294.9h1.4v1.4h-1.4zM504.8 294.9h1.4v1.4h-1.4zM496.1 297.7h1.4v1.4h-1.4zM499.0 297.8h1.4v1.4h-1.4zM501.9 297.8h1.4v1.4h-1.4zM504.8 297.9h1.4v1.4h-1.4zM496.1 300.7h1.4v1.4h-1.4zM499.0 300.8h1.4v1.4h-1.4zM501.9 300.8h1.4v1.4h-1.4zM504.8 300.9h1.4v1.4h-1.4zM509.7 292.0h1.4v1.4h-1.4zM512.6 292.1h1.4v1.4h-1.4zM515.5 292.1h1.4v1.4h-1.4zM518.4 292.2h1.4v1.4h-1.4zM509.7 295.0h1.4v1.4h-1.4zM512.6 295.1h1.4v1.4h-1.4zM515.5 295.1h1.4v1.4h-1.4zM518.4 295.2h1.4v1.4h-1.4zM509.7 298.0h1.4v1.4h-1.4zM512.6 298.0h1.4v1.4h-1.4zM515.5 298.1h1.4v1.4h-1.4zM518.4 298.1h1.4v1.4h-1.4zM509.7 300.9h1.4v1.4h-1.4zM512.6 301.0h1.4v1.4h-1.4zM515.5 301.1h1.4v1.4h-1.4zM518.4 301.1h1.4v1.4h-1.4zM523.3 292.3h1.4v1.4h-1.4zM526.2 292.3h1.4v1.4h-1.4zM529.1 292.4h1.4v1.4h-1.4zM532.0 292.4h1.4v1.4h-1.4zM523.3 295.2h1.4v1.4h-1.4zM526.2 295.3h1.4v1.4h-1.4zM529.1 295.3h1.4v1.4h-1.4zM532.0 295.4h1.4v1.4h-1.4zM523.3 298.2h1.4v1.4h-1.4zM526.2 298.3h1.4v1.4h-1.4zM529.1 298.3h1.4v1.4h-1.4zM532.0 298.4h1.4v1.4h-1.4zM523.3 301.2h1.4v1.4h-1.4zM526.2 301.3h1.4v1.4h-1.4zM529.1 301.3h1.4v1.4h-1.4zM532.0 301.4h1.4v1.4h-1.4zM536.9 292.5h1.4v1.4h-1.4zM539.8 292.5h1.4v1.4h-1.4zM542.7 292.6h1.4v1.4h-1.4zM545.6 292.6h1.4v1.4h-1.4zM536.9 295.5h1.4v1.4h-1.4zM539.8 295.5h1.4v1.4h-1.4zM542.7 295.6h1.4v1.4h-1.4zM545.6 295.6h1.4v1.4h-1.4zM536.9 298.5h1.4v1.4h-1.4zM539.8 298.5h1.4v1.4h-1.4zM542.7 298.6h1.4v1.4h-1.4zM545.6 298.6h1.4v1.4h-1.4zM536.9 301.4h1.4v1.4h-1.4zM539.8 301.5h1.4v1.4h-1.4zM542.7 301.6h1.4v1.4h-1.4zM545.6 301.6h1.4v1.4h-1.4zM550.5 292.7h1.4v1.4h-1.4zM553.4 292.8h1.4v1.4h-1.4zM556.3 292.8h1.4v1.4h-1.4zM559.2 292.9h1.4v1.4h-1.4zM550.5 295.7h1.4v1.4h-1.4zM553.4 295.8h1.4v1.4h-1.4zM556.3 295.8h1.4v1.4h-1.4zM559.2 295.9h1.4v1.4h-1.4zM550.5 298.7h1.4v1.4h-1.4zM553.4 298.8h1.4v1.4h-1.4zM556.3 298.8h1.4v1.4h-1.4zM559.2 298.9h1.4v1.4h-1.4zM550.5 301.7h1.4v1.4h-1.4zM553.4 301.8h1.4v1.4h-1.4zM556.3 301.8h1.4v1.4h-1.4zM559.2 301.9h1.4v1.4h-1.4zM564.1 292.9h1.4v1.4h-1.4zM567.0 293.0h1.4v1.4h-1.4zM569.9 293.0h1.4v1.4h-1.4zM572.8 293.1h1.4v1.4h-1.4zM564.1 295.9h1.4v1.4h-1.4zM567.0 296.0h1.4v1.4h-1.4zM569.9 296.0h1.4v1.4h-1.4zM572.8 296.1h1.4v1.4h-1.4zM564.1 298.9h1.4v1.4h-1.4zM567.0 299.0h1.4v1.4h-1.4zM569.9 299.1h1.4v1.4h-1.4zM572.8 299.1h1.4v1.4h-1.4zM564.1 301.9h1.4v1.4h-1.4zM567.0 302.0h1.4v1.4h-1.4zM569.9 302.1h1.4v1.4h-1.4zM572.8 302.1h1.4v1.4h-1.4zM577.7 293.2h1.4v1.4h-1.4zM580.6 293.2h1.4v1.4h-1.4zM583.5 293.3h1.4v1.4h-1.4zM586.4 293.3h1.4v1.4h-1.4zM577.7 296.2h1.4v1.4h-1.4zM580.6 296.2h1.4v1.4h-1.4zM583.5 296.3h1.4v1.4h-1.4zM586.4 296.3h1.4v1.4h-1.4zM577.7 299.2h1.4v1.4h-1.4zM580.6 299.2h1.4v1.4h-1.4zM583.5 299.3h1.4v1.4h-1.4zM586.4 299.3h1.4v1.4h-1.4zM577.7 302.2h1.4v1.4h-1.4zM580.6 302.3h1.4v1.4h-1.4zM583.5 302.3h1.4v1.4h-1.4zM586.4 302.4h1.4v1.4h-1.4zM591.3 293.4h1.4v1.4h-1.4zM594.2 293.5h1.4v1.4h-1.4zM597.1 293.5h1.4v1.4h-1.4zM600.0 293.6h1.4v1.4h-1.4zM591.3 296.4h1.4v1.4h-1.4zM594.2 296.5h1.4v1.4h-1.4zM597.1 296.5h1.4v1.4h-1.4zM600.0 296.6h1.4v1.4h-1.4zM591.3 299.4h1.4v1.4h-1.4zM594.2 299.5h1.4v1.4h-1.4zM597.1 299.5h1.4v1.4h-1.4zM600.0 299.6h1.4v1.4h-1.4zM591.3 302.4h1.4v1.4h-1.4zM594.2 302.5h1.4v1.4h-1.4zM597.1 302.6h1.4v1.4h-1.4zM600.0 302.6h1.4v1.4h-1.4zM604.9 293.6h1.4v1.4h-1.4zM607.8 293.7h1.4v1.4h-1.4zM610.7 293.7h1.4v1.4h-1.4zM613.6 293.8h1.4v1.4h-1.4zM604.9 296.7h1.4v1.4h-1.4zM607.8 296.7h1.4v1.4h-1.4zM610.7 296.8h1.4v1.4h-1.4zM613.6 296.8h1.4v1.4h-1.4zM604.9 299.7h1.4v1.4h-1.4zM607.8 299.7h1.4v1.4h-1.4zM610.7 299.8h1.4v1.4h-1.4zM613.6 299.8h1.4v1.4h-1.4zM604.9 302.7h1.4v1.4h-1.4zM607.8 302.8h1.4v1.4h-1.4zM610.7 302.8h1.4v1.4h-1.4zM613.6 302.9h1.4v1.4h-1.4zM482.5 306.4h1.4v1.4h-1.4zM485.4 306.4h1.4v1.4h-1.4zM488.3 306.5h1.4v1.4h-1.4zM491.2 306.5h1.4v1.4h-1.4zM482.5 309.3h1.4v1.4h-1.4zM485.4 309.4h1.4v1.4h-1.4zM488.3 309.4h1.4v1.4h-1.4zM491.2 309.5h1.4v1.4h-1.4zM482.5 312.3h1.4v1.4h-1.4zM485.4 312.3h1.4v1.4h-1.4zM488.3 312.4h1.4v1.4h-1.4zM491.2 312.5h1.4v1.4h-1.4zM482.5 315.2h1.4v1.4h-1.4zM485.4 315.3h1.4v1.4h-1.4zM488.3 315.4h1.4v1.4h-1.4zM491.2 315.4h1.4v1.4h-1.4zM496.1 306.6h1.4v1.4h-1.4zM499.0 306.7h1.4v1.4h-1.4zM501.9 306.7h1.4v1.4h-1.4zM504.8 306.8h1.4v1.4h-1.4zM496.1 309.6h1.4v1.4h-1.4zM499.0 309.7h1.4v1.4h-1.4zM501.9 309.7h1.4v1.4h-1.4zM504.8 309.8h1.4v1.4h-1.4zM496.1 312.6h1.4v1.4h-1.4zM499.0 312.6h1.4v1.4h-1.4zM501.9 312.7h1.4v1.4h-1.4zM504.8 312.7h1.4v1.4h-1.4zM496.1 315.5h1.4v1.4h-1.4zM499.0 315.6h1.4v1.4h-1.4zM501.9 315.6h1.4v1.4h-1.4zM504.8 315.7h1.4v1.4h-1.4zM509.7 306.9h1.4v1.4h-1.4zM512.6 306.9h1.4v1.4h-1.4zM515.5 307.0h1.4v1.4h-1.4zM518.4 307.1h1.4v1.4h-1.4zM509.7 309.9h1.4v1.4h-1.4zM512.6 309.9h1.4v1.4h-1.4zM515.5 310.0h1.4v1.4h-1.4zM518.4 310.0h1.4v1.4h-1.4zM509.7 312.8h1.4v1.4h-1.4zM512.6 312.9h1.4v1.4h-1.4zM515.5 313.0h1.4v1.4h-1.4zM518.4 313.0h1.4v1.4h-1.4zM509.7 315.8h1.4v1.4h-1.4zM512.6 315.9h1.4v1.4h-1.4zM515.5 315.9h1.4v1.4h-1.4zM518.4 316.0h1.4v1.4h-1.4zM523.3 307.2h1.4v1.4h-1.4zM526.2 307.2h1.4v1.4h-1.4zM529.1 307.3h1.4v1.4h-1.4zM532.0 307.3h1.4v1.4h-1.4zM523.3 310.1h1.4v1.4h-1.4zM526.2 310.2h1.4v1.4h-1.4zM529.1 310.3h1.4v1.4h-1.4zM532.0 310.3h1.4v1.4h-1.4zM523.3 313.1h1.4v1.4h-1.4zM526.2 313.2h1.4v1.4h-1.4zM529.1 313.2h1.4v1.4h-1.4zM532.0 313.3h1.4v1.4h-1.4zM523.3 316.1h1.4v1.4h-1.4zM526.2 316.2h1.4v1.4h-1.4zM529.1 316.2h1.4v1.4h-1.4zM532.0 316.3h1.4v1.4h-1.4zM536.9 307.4h1.4v1.4h-1.4zM539.8 307.5h1.4v1.4h-1.4zM542.7 307.5h1.4v1.4h-1.4zM545.6 307.6h1.4v1.4h-1.4zM536.9 310.4h1.4v1.4h-1.4zM539.8 310.5h1.4v1.4h-1.4zM542.7 310.5h1.4v1.4h-1.4zM545.6 310.6h1.4v1.4h-1.4zM536.9 313.4h1.4v1.4h-1.4zM539.8 313.5h1.4v1.4h-1.4zM542.7 313.5h1.4v1.4h-1.4zM545.6 313.6h1.4v1.4h-1.4zM536.9 316.4h1.4v1.4h-1.4zM539.8 316.4h1.4v1.4h-1.4zM542.7 316.5h1.4v1.4h-1.4zM545.6 316.6h1.4v1.4h-1.4zM550.5 307.7h1.4v1.4h-1.4zM553.4 307.7h1.4v1.4h-1.4zM556.3 307.8h1.4v1.4h-1.4zM559.2 307.9h1.4v1.4h-1.4zM550.5 310.7h1.4v1.4h-1.4zM553.4 310.7h1.4v1.4h-1.4zM556.3 310.8h1.4v1.4h-1.4zM559.2 310.9h1.4v1.4h-1.4zM550.5 313.7h1.4v1.4h-1.4zM553.4 313.7h1.4v1.4h-1.4zM556.3 313.8h1.4v1.4h-1.4zM559.2 313.8h1.4v1.4h-1.4zM550.5 316.7h1.4v1.4h-1.4zM553.4 316.7h1.4v1.4h-1.4zM556.3 316.8h1.4v1.4h-1.4zM559.2 316.8h1.4v1.4h-1.4zM564.1 307.9h1.4v1.4h-1.4zM567.0 308.0h1.4v1.4h-1.4zM569.9 308.1h1.4v1.4h-1.4zM572.8 308.1h1.4v1.4h-1.4zM564.1 310.9h1.4v1.4h-1.4zM567.0 311.0h1.4v1.4h-1.4zM569.9 311.1h1.4v1.4h-1.4zM572.8 311.1h1.4v1.4h-1.4zM564.1 313.9h1.4v1.4h-1.4zM567.0 314.0h1.4v1.4h-1.4zM569.9 314.1h1.4v1.4h-1.4zM572.8 314.1h1.4v1.4h-1.4zM564.1 316.9h1.4v1.4h-1.4zM567.0 317.0h1.4v1.4h-1.4zM569.9 317.1h1.4v1.4h-1.4zM572.8 317.1h1.4v1.4h-1.4zM577.7 308.2h1.4v1.4h-1.4zM580.6 308.3h1.4v1.4h-1.4zM583.5 308.3h1.4v1.4h-1.4zM586.4 308.4h1.4v1.4h-1.4zM577.7 311.2h1.4v1.4h-1.4zM580.6 311.3h1.4v1.4h-1.4zM583.5 311.3h1.4v1.4h-1.4zM586.4 311.4h1.4v1.4h-1.4zM577.7 314.2h1.4v1.4h-1.4zM580.6 314.3h1.4v1.4h-1.4zM583.5 314.3h1.4v1.4h-1.4zM586.4 314.4h1.4v1.4h-1.4zM577.7 317.2h1.4v1.4h-1.4zM580.6 317.3h1.4v1.4h-1.4zM583.5 317.4h1.4v1.4h-1.4zM586.4 317.4h1.4v1.4h-1.4zM591.3 308.5h1.4v1.4h-1.4zM594.2 308.5h1.4v1.4h-1.4zM597.1 308.6h1.4v1.4h-1.4zM600.0 308.6h1.4v1.4h-1.4zM591.3 311.5h1.4v1.4h-1.4zM594.2 311.5h1.4v1.4h-1.4zM597.1 311.6h1.4v1.4h-1.4zM600.0 311.7h1.4v1.4h-1.4zM591.3 314.5h1.4v1.4h-1.4zM594.2 314.6h1.4v1.4h-1.4zM597.1 314.6h1.4v1.4h-1.4zM600.0 314.7h1.4v1.4h-1.4zM591.3 317.5h1.4v1.4h-1.4zM594.2 317.6h1.4v1.4h-1.4zM597.1 317.6h1.4v1.4h-1.4zM600.0 317.7h1.4v1.4h-1.4zM604.9 308.7h1.4v1.4h-1.4zM607.8 308.8h1.4v1.4h-1.4zM610.7 308.9h1.4v1.4h-1.4zM613.6 308.9h1.4v1.4h-1.4zM604.9 311.8h1.4v1.4h-1.4zM607.8 311.8h1.4v1.4h-1.4zM610.7 311.9h1.4v1.4h-1.4zM613.6 311.9h1.4v1.4h-1.4zM604.9 314.8h1.4v1.4h-1.4zM607.8 314.8h1.4v1.4h-1.4zM610.7 314.9h1.4v1.4h-1.4zM613.6 315.0h1.4v1.4h-1.4zM604.9 317.8h1.4v1.4h-1.4zM607.8 317.9h1.4v1.4h-1.4zM610.7 317.9h1.4v1.4h-1.4zM613.6 318.0h1.4v1.4h-1.4zM482.5 321.2h1.4v1.4h-1.4zM485.4 321.2h1.4v1.4h-1.4zM488.3 321.3h1.4v1.4h-1.4zM491.2 321.3h1.4v1.4h-1.4zM482.5 324.1h1.4v1.4h-1.4zM485.4 324.2h1.4v1.4h-1.4zM488.3 324.2h1.4v1.4h-1.4zM491.2 324.3h1.4v1.4h-1.4zM482.5 327.1h1.4v1.4h-1.4zM485.4 327.1h1.4v1.4h-1.4zM488.3 327.2h1.4v1.4h-1.4zM491.2 327.3h1.4v1.4h-1.4zM482.5 330.0h1.4v1.4h-1.4zM485.4 330.1h1.4v1.4h-1.4zM488.3 330.2h1.4v1.4h-1.4zM491.2 330.2h1.4v1.4h-1.4zM496.1 321.5h1.4v1.4h-1.4zM499.0 321.5h1.4v1.4h-1.4zM501.9 321.6h1.4v1.4h-1.4zM504.8 321.6h1.4v1.4h-1.4zM496.1 324.4h1.4v1.4h-1.4zM499.0 324.5h1.4v1.4h-1.4zM501.9 324.6h1.4v1.4h-1.4zM504.8 324.6h1.4v1.4h-1.4zM496.1 327.4h1.4v1.4h-1.4zM499.0 327.5h1.4v1.4h-1.4zM501.9 327.5h1.4v1.4h-1.4zM504.8 327.6h1.4v1.4h-1.4zM496.1 330.4h1.4v1.4h-1.4zM499.0 330.4h1.4v1.4h-1.4zM501.9 330.5h1.4v1.4h-1.4zM504.8 330.6h1.4v1.4h-1.4zM509.7 321.8h1.4v1.4h-1.4zM512.6 321.8h1.4v1.4h-1.4zM515.5 321.9h1.4v1.4h-1.4zM518.4 321.9h1.4v1.4h-1.4zM509.7 324.7h1.4v1.4h-1.4zM512.6 324.8h1.4v1.4h-1.4zM515.5 324.9h1.4v1.4h-1.4zM518.4 324.9h1.4v1.4h-1.4zM509.7 327.7h1.4v1.4h-1.4zM512.6 327.8h1.4v1.4h-1.4zM515.5 327.8h1.4v1.4h-1.4zM518.4 327.9h1.4v1.4h-1.4zM509.7 330.7h1.4v1.4h-1.4zM512.6 330.7h1.4v1.4h-1.4zM515.5 330.8h1.4v1.4h-1.4zM518.4 330.9h1.4v1.4h-1.4zM523.3 322.1h1.4v1.4h-1.4zM526.2 322.1h1.4v1.4h-1.4zM529.1 322.2h1.4v1.4h-1.4zM532.0 322.2h1.4v1.4h-1.4zM523.3 325.0h1.4v1.4h-1.4zM526.2 325.1h1.4v1.4h-1.4zM529.1 325.2h1.4v1.4h-1.4zM532.0 325.2h1.4v1.4h-1.4zM523.3 328.0h1.4v1.4h-1.4zM526.2 328.1h1.4v1.4h-1.4zM529.1 328.1h1.4v1.4h-1.4zM532.0 328.2h1.4v1.4h-1.4zM523.3 331.0h1.4v1.4h-1.4zM526.2 331.1h1.4v1.4h-1.4zM529.1 331.1h1.4v1.4h-1.4zM532.0 331.2h1.4v1.4h-1.4zM536.9 322.4h1.4v1.4h-1.4zM539.8 322.4h1.4v1.4h-1.4zM542.7 322.5h1.4v1.4h-1.4zM545.6 322.5h1.4v1.4h-1.4zM536.9 325.3h1.4v1.4h-1.4zM539.8 325.4h1.4v1.4h-1.4zM542.7 325.5h1.4v1.4h-1.4zM545.6 325.5h1.4v1.4h-1.4zM536.9 328.3h1.4v1.4h-1.4zM539.8 328.4h1.4v1.4h-1.4zM542.7 328.5h1.4v1.4h-1.4zM545.6 328.5h1.4v1.4h-1.4zM536.9 331.3h1.4v1.4h-1.4zM539.8 331.4h1.4v1.4h-1.4zM542.7 331.4h1.4v1.4h-1.4zM545.6 331.5h1.4v1.4h-1.4zM550.5 322.7h1.4v1.4h-1.4zM553.4 322.7h1.4v1.4h-1.4zM556.3 322.8h1.4v1.4h-1.4zM559.2 322.8h1.4v1.4h-1.4zM550.5 325.6h1.4v1.4h-1.4zM553.4 325.7h1.4v1.4h-1.4zM556.3 325.8h1.4v1.4h-1.4zM559.2 325.8h1.4v1.4h-1.4zM550.5 328.6h1.4v1.4h-1.4zM553.4 328.7h1.4v1.4h-1.4zM556.3 328.8h1.4v1.4h-1.4zM559.2 328.8h1.4v1.4h-1.4zM550.5 331.6h1.4v1.4h-1.4zM553.4 331.7h1.4v1.4h-1.4zM556.3 331.8h1.4v1.4h-1.4zM559.2 331.8h1.4v1.4h-1.4zM564.1 322.9h1.4v1.4h-1.4zM567.0 323.0h1.4v1.4h-1.4zM569.9 323.1h1.4v1.4h-1.4zM572.8 323.1h1.4v1.4h-1.4zM564.1 326.0h1.4v1.4h-1.4zM567.0 326.0h1.4v1.4h-1.4zM569.9 326.1h1.4v1.4h-1.4zM572.8 326.1h1.4v1.4h-1.4zM564.1 329.0h1.4v1.4h-1.4zM567.0 329.0h1.4v1.4h-1.4zM569.9 329.1h1.4v1.4h-1.4zM572.8 329.2h1.4v1.4h-1.4zM564.1 332.0h1.4v1.4h-1.4zM567.0 332.0h1.4v1.4h-1.4zM569.9 332.1h1.4v1.4h-1.4zM572.8 332.2h1.4v1.4h-1.4zM577.7 323.2h1.4v1.4h-1.4zM580.6 323.3h1.4v1.4h-1.4zM583.5 323.4h1.4v1.4h-1.4zM586.4 323.4h1.4v1.4h-1.4zM577.7 326.3h1.4v1.4h-1.4zM580.6 326.3h1.4v1.4h-1.4zM583.5 326.4h1.4v1.4h-1.4zM586.4 326.5h1.4v1.4h-1.4zM577.7 329.3h1.4v1.4h-1.4zM580.6 329.3h1.4v1.4h-1.4zM583.5 329.4h1.4v1.4h-1.4zM586.4 329.5h1.4v1.4h-1.4zM577.7 332.3h1.4v1.4h-1.4zM580.6 332.3h1.4v1.4h-1.4zM583.5 332.4h1.4v1.4h-1.4zM586.4 332.5h1.4v1.4h-1.4zM591.3 323.5h1.4v1.4h-1.4zM594.2 323.6h1.4v1.4h-1.4zM597.1 323.7h1.4v1.4h-1.4zM600.0 323.7h1.4v1.4h-1.4zM591.3 326.6h1.4v1.4h-1.4zM594.2 326.6h1.4v1.4h-1.4zM597.1 326.7h1.4v1.4h-1.4zM600.0 326.8h1.4v1.4h-1.4zM591.3 329.6h1.4v1.4h-1.4zM594.2 329.6h1.4v1.4h-1.4zM597.1 329.7h1.4v1.4h-1.4zM600.0 329.8h1.4v1.4h-1.4zM591.3 332.6h1.4v1.4h-1.4zM594.2 332.7h1.4v1.4h-1.4zM597.1 332.7h1.4v1.4h-1.4zM600.0 332.8h1.4v1.4h-1.4zM604.9 323.8h1.4v1.4h-1.4zM607.8 323.9h1.4v1.4h-1.4zM610.7 324.0h1.4v1.4h-1.4zM613.6 324.0h1.4v1.4h-1.4zM604.9 326.9h1.4v1.4h-1.4zM607.8 326.9h1.4v1.4h-1.4zM610.7 327.0h1.4v1.4h-1.4zM613.6 327.1h1.4v1.4h-1.4zM604.9 329.9h1.4v1.4h-1.4zM607.8 330.0h1.4v1.4h-1.4zM610.7 330.0h1.4v1.4h-1.4zM613.6 330.1h1.4v1.4h-1.4zM604.9 332.9h1.4v1.4h-1.4zM607.8 333.0h1.4v1.4h-1.4zM610.7 333.0h1.4v1.4h-1.4zM613.6 333.1h1.4v1.4h-1.4zM482.5 335.9h1.4v1.4h-1.4zM485.4 336.0h1.4v1.4h-1.4zM488.3 336.1h1.4v1.4h-1.4zM491.2 336.2h1.4v1.4h-1.4zM482.5 338.9h1.4v1.4h-1.4zM485.4 339.0h1.4v1.4h-1.4zM488.3 339.1h1.4v1.4h-1.4zM491.2 339.1h1.4v1.4h-1.4zM482.5 341.9h1.4v1.4h-1.4zM485.4 341.9h1.4v1.4h-1.4zM488.3 342.0h1.4v1.4h-1.4zM491.2 342.1h1.4v1.4h-1.4zM482.5 344.8h1.4v1.4h-1.4zM485.4 344.9h1.4v1.4h-1.4zM488.3 345.0h1.4v1.4h-1.4zM491.2 345.0h1.4v1.4h-1.4zM496.1 336.3h1.4v1.4h-1.4zM499.0 336.4h1.4v1.4h-1.4zM501.9 336.4h1.4v1.4h-1.4zM504.8 336.5h1.4v1.4h-1.4zM496.1 339.2h1.4v1.4h-1.4zM499.0 339.3h1.4v1.4h-1.4zM501.9 339.4h1.4v1.4h-1.4zM504.8 339.5h1.4v1.4h-1.4zM496.1 342.2h1.4v1.4h-1.4zM499.0 342.3h1.4v1.4h-1.4zM501.9 342.4h1.4v1.4h-1.4zM504.8 342.4h1.4v1.4h-1.4zM496.1 345.2h1.4v1.4h-1.4zM499.0 345.3h1.4v1.4h-1.4zM501.9 345.3h1.4v1.4h-1.4zM504.8 345.4h1.4v1.4h-1.4zM509.7 336.6h1.4v1.4h-1.4zM512.6 336.7h1.4v1.4h-1.4zM515.5 336.8h1.4v1.4h-1.4zM518.4 336.8h1.4v1.4h-1.4zM509.7 339.6h1.4v1.4h-1.4zM512.6 339.7h1.4v1.4h-1.4zM515.5 339.7h1.4v1.4h-1.4zM518.4 339.8h1.4v1.4h-1.4zM509.7 342.6h1.4v1.4h-1.4zM512.6 342.6h1.4v1.4h-1.4zM515.5 342.7h1.4v1.4h-1.4zM518.4 342.8h1.4v1.4h-1.4zM509.7 345.5h1.4v1.4h-1.4zM512.6 345.6h1.4v1.4h-1.4zM515.5 345.7h1.4v1.4h-1.4zM518.4 345.8h1.4v1.4h-1.4zM523.3 336.9h1.4v1.4h-1.4zM526.2 337.0h1.4v1.4h-1.4zM529.1 337.1h1.4v1.4h-1.4zM532.0 337.2h1.4v1.4h-1.4zM523.3 339.9h1.4v1.4h-1.4zM526.2 340.0h1.4v1.4h-1.4zM529.1 340.1h1.4v1.4h-1.4zM532.0 340.1h1.4v1.4h-1.4zM523.3 342.9h1.4v1.4h-1.4zM526.2 343.0h1.4v1.4h-1.4zM529.1 343.1h1.4v1.4h-1.4zM532.0 343.1h1.4v1.4h-1.4zM523.3 345.9h1.4v1.4h-1.4zM526.2 346.0h1.4v1.4h-1.4zM529.1 346.0h1.4v1.4h-1.4zM532.0 346.1h1.4v1.4h-1.4zM536.9 337.3h1.4v1.4h-1.4zM539.8 337.4h1.4v1.4h-1.4zM542.7 337.4h1.4v1.4h-1.4zM545.6 337.5h1.4v1.4h-1.4zM536.9 340.3h1.4v1.4h-1.4zM539.8 340.3h1.4v1.4h-1.4zM542.7 340.4h1.4v1.4h-1.4zM545.6 340.5h1.4v1.4h-1.4zM536.9 343.3h1.4v1.4h-1.4zM539.8 343.3h1.4v1.4h-1.4zM542.7 343.4h1.4v1.4h-1.4zM545.6 343.5h1.4v1.4h-1.4zM536.9 346.2h1.4v1.4h-1.4zM539.8 346.3h1.4v1.4h-1.4zM542.7 346.4h1.4v1.4h-1.4zM545.6 346.5h1.4v1.4h-1.4zM550.5 337.6h1.4v1.4h-1.4zM553.4 337.7h1.4v1.4h-1.4zM556.3 337.8h1.4v1.4h-1.4zM559.2 337.8h1.4v1.4h-1.4zM550.5 340.6h1.4v1.4h-1.4zM553.4 340.7h1.4v1.4h-1.4zM556.3 340.8h1.4v1.4h-1.4zM559.2 340.8h1.4v1.4h-1.4zM550.5 343.6h1.4v1.4h-1.4zM553.4 343.7h1.4v1.4h-1.4zM556.3 343.8h1.4v1.4h-1.4zM559.2 343.8h1.4v1.4h-1.4zM550.5 346.6h1.4v1.4h-1.4zM553.4 346.7h1.4v1.4h-1.4zM556.3 346.7h1.4v1.4h-1.4zM559.2 346.8h1.4v1.4h-1.4zM550.5 349.6h1.4v1.4h-1.4zM553.4 349.7h1.4v1.4h-1.4zM556.3 349.7h1.4v1.4h-1.4zM559.2 349.8h1.4v1.4h-1.4zM564.1 338.0h1.4v1.4h-1.4zM567.0 338.0h1.4v1.4h-1.4zM569.9 338.1h1.4v1.4h-1.4zM572.8 338.2h1.4v1.4h-1.4zM564.1 341.0h1.4v1.4h-1.4zM567.0 341.0h1.4v1.4h-1.4zM569.9 341.1h1.4v1.4h-1.4zM572.8 341.2h1.4v1.4h-1.4zM564.1 344.0h1.4v1.4h-1.4zM567.0 344.0h1.4v1.4h-1.4zM569.9 344.1h1.4v1.4h-1.4zM572.8 344.2h1.4v1.4h-1.4zM564.1 347.0h1.4v1.4h-1.4zM567.0 347.0h1.4v1.4h-1.4zM569.9 347.1h1.4v1.4h-1.4zM572.8 347.2h1.4v1.4h-1.4zM577.7 338.3h1.4v1.4h-1.4zM580.6 338.4h1.4v1.4h-1.4zM583.5 338.4h1.4v1.4h-1.4zM586.4 338.5h1.4v1.4h-1.4zM577.7 341.3h1.4v1.4h-1.4zM580.6 341.4h1.4v1.4h-1.4zM583.5 341.4h1.4v1.4h-1.4zM586.4 341.5h1.4v1.4h-1.4zM577.7 344.3h1.4v1.4h-1.4zM580.6 344.4h1.4v1.4h-1.4zM583.5 344.4h1.4v1.4h-1.4zM586.4 344.5h1.4v1.4h-1.4zM577.7 347.3h1.4v1.4h-1.4zM580.6 347.4h1.4v1.4h-1.4zM583.5 347.5h1.4v1.4h-1.4zM586.4 347.5h1.4v1.4h-1.4zM591.3 338.6h1.4v1.4h-1.4zM594.2 338.7h1.4v1.4h-1.4zM597.1 338.8h1.4v1.4h-1.4zM600.0 338.8h1.4v1.4h-1.4zM591.3 341.6h1.4v1.4h-1.4zM594.2 341.7h1.4v1.4h-1.4zM597.1 341.8h1.4v1.4h-1.4zM600.0 341.9h1.4v1.4h-1.4zM591.3 344.6h1.4v1.4h-1.4zM594.2 344.7h1.4v1.4h-1.4zM597.1 344.8h1.4v1.4h-1.4zM600.0 344.9h1.4v1.4h-1.4zM591.3 347.7h1.4v1.4h-1.4zM594.2 347.7h1.4v1.4h-1.4zM597.1 347.8h1.4v1.4h-1.4zM600.0 347.9h1.4v1.4h-1.4zM604.9 339.0h1.4v1.4h-1.4zM607.8 339.0h1.4v1.4h-1.4zM610.7 339.1h1.4v1.4h-1.4zM613.6 339.2h1.4v1.4h-1.4zM604.9 342.0h1.4v1.4h-1.4zM607.8 342.0h1.4v1.4h-1.4zM610.7 342.1h1.4v1.4h-1.4zM613.6 342.2h1.4v1.4h-1.4zM604.9 345.0h1.4v1.4h-1.4zM607.8 345.1h1.4v1.4h-1.4zM610.7 345.1h1.4v1.4h-1.4zM613.6 345.2h1.4v1.4h-1.4zM604.9 348.0h1.4v1.4h-1.4zM607.8 348.1h1.4v1.4h-1.4zM610.7 348.2h1.4v1.4h-1.4zM613.6 348.2h1.4v1.4h-1.4zM482.5 366.2h1.4v1.4h-1.4zM485.4 366.3h1.4v1.4h-1.4zM488.3 366.4h1.4v1.4h-1.4zM491.2 366.4h1.4v1.4h-1.4zM482.5 369.1h1.4v1.4h-1.4zM485.4 369.2h1.4v1.4h-1.4zM488.3 369.3h1.4v1.4h-1.4zM491.2 369.4h1.4v1.4h-1.4zM482.5 372.1h1.4v1.4h-1.4zM485.4 372.2h1.4v1.4h-1.4zM488.3 372.3h1.4v1.4h-1.4zM491.2 372.4h1.4v1.4h-1.4zM482.5 375.1h1.4v1.4h-1.4zM485.4 375.1h1.4v1.4h-1.4zM488.3 375.2h1.4v1.4h-1.4zM491.2 375.3h1.4v1.4h-1.4zM496.1 366.6h1.4v1.4h-1.4zM499.0 366.7h1.4v1.4h-1.4zM501.9 366.8h1.4v1.4h-1.4zM504.8 366.8h1.4v1.4h-1.4zM496.1 369.6h1.4v1.4h-1.4zM499.0 369.6h1.4v1.4h-1.4zM501.9 369.7h1.4v1.4h-1.4zM504.8 369.8h1.4v1.4h-1.4zM496.1 372.5h1.4v1.4h-1.4zM499.0 372.6h1.4v1.4h-1.4zM501.9 372.7h1.4v1.4h-1.4zM504.8 372.8h1.4v1.4h-1.4zM496.1 375.5h1.4v1.4h-1.4zM499.0 375.6h1.4v1.4h-1.4zM501.9 375.7h1.4v1.4h-1.4zM504.8 375.8h1.4v1.4h-1.4zM509.7 367.0h1.4v1.4h-1.4zM512.6 367.1h1.4v1.4h-1.4zM515.5 367.2h1.4v1.4h-1.4zM518.4 367.3h1.4v1.4h-1.4zM509.7 370.0h1.4v1.4h-1.4zM512.6 370.1h1.4v1.4h-1.4zM515.5 370.1h1.4v1.4h-1.4zM518.4 370.2h1.4v1.4h-1.4zM509.7 372.9h1.4v1.4h-1.4zM512.6 373.0h1.4v1.4h-1.4zM515.5 373.1h1.4v1.4h-1.4zM518.4 373.2h1.4v1.4h-1.4zM509.7 375.9h1.4v1.4h-1.4zM512.6 376.0h1.4v1.4h-1.4zM515.5 376.1h1.4v1.4h-1.4zM518.4 376.2h1.4v1.4h-1.4zM523.3 367.4h1.4v1.4h-1.4zM526.2 367.5h1.4v1.4h-1.4zM529.1 367.6h1.4v1.4h-1.4zM532.0 367.7h1.4v1.4h-1.4zM523.3 370.4h1.4v1.4h-1.4zM526.2 370.5h1.4v1.4h-1.4zM529.1 370.6h1.4v1.4h-1.4zM532.0 370.6h1.4v1.4h-1.4zM523.3 373.4h1.4v1.4h-1.4zM526.2 373.4h1.4v1.4h-1.4zM529.1 373.5h1.4v1.4h-1.4zM532.0 373.6h1.4v1.4h-1.4zM523.3 376.3h1.4v1.4h-1.4zM526.2 376.4h1.4v1.4h-1.4zM529.1 376.5h1.4v1.4h-1.4zM532.0 376.6h1.4v1.4h-1.4zM536.9 367.8h1.4v1.4h-1.4zM539.8 367.9h1.4v1.4h-1.4zM542.7 368.0h1.4v1.4h-1.4zM545.6 368.1h1.4v1.4h-1.4zM536.9 370.8h1.4v1.4h-1.4zM539.8 370.9h1.4v1.4h-1.4zM542.7 371.0h1.4v1.4h-1.4zM545.6 371.1h1.4v1.4h-1.4zM536.9 373.8h1.4v1.4h-1.4zM539.8 373.9h1.4v1.4h-1.4zM542.7 374.0h1.4v1.4h-1.4zM545.6 374.0h1.4v1.4h-1.4zM536.9 376.8h1.4v1.4h-1.4zM539.8 376.9h1.4v1.4h-1.4zM542.7 376.9h1.4v1.4h-1.4zM545.6 377.0h1.4v1.4h-1.4zM550.5 368.2h1.4v1.4h-1.4zM553.4 368.3h1.4v1.4h-1.4zM556.3 368.4h1.4v1.4h-1.4zM559.2 368.5h1.4v1.4h-1.4zM550.5 371.2h1.4v1.4h-1.4zM553.4 371.3h1.4v1.4h-1.4zM556.3 371.4h1.4v1.4h-1.4zM559.2 371.5h1.4v1.4h-1.4zM550.5 374.2h1.4v1.4h-1.4zM553.4 374.3h1.4v1.4h-1.4zM556.3 374.4h1.4v1.4h-1.4zM559.2 374.5h1.4v1.4h-1.4zM550.5 377.2h1.4v1.4h-1.4zM553.4 377.3h1.4v1.4h-1.4zM556.3 377.4h1.4v1.4h-1.4zM559.2 377.5h1.4v1.4h-1.4zM564.1 368.6h1.4v1.4h-1.4zM567.0 368.7h1.4v1.4h-1.4zM569.9 368.8h1.4v1.4h-1.4zM572.8 368.9h1.4v1.4h-1.4zM564.1 371.6h1.4v1.4h-1.4zM567.0 371.7h1.4v1.4h-1.4zM569.9 371.8h1.4v1.4h-1.4zM572.8 371.9h1.4v1.4h-1.4zM564.1 374.6h1.4v1.4h-1.4zM567.0 374.7h1.4v1.4h-1.4zM569.9 374.8h1.4v1.4h-1.4zM572.8 374.9h1.4v1.4h-1.4zM564.1 377.6h1.4v1.4h-1.4zM567.0 377.7h1.4v1.4h-1.4zM569.9 377.8h1.4v1.4h-1.4zM572.8 377.9h1.4v1.4h-1.4zM577.7 369.0h1.4v1.4h-1.4zM580.6 369.1h1.4v1.4h-1.4zM583.5 369.2h1.4v1.4h-1.4zM586.4 369.3h1.4v1.4h-1.4zM577.7 372.0h1.4v1.4h-1.4zM580.6 372.1h1.4v1.4h-1.4zM583.5 372.2h1.4v1.4h-1.4zM586.4 372.3h1.4v1.4h-1.4zM577.7 375.0h1.4v1.4h-1.4zM580.6 375.1h1.4v1.4h-1.4zM583.5 375.2h1.4v1.4h-1.4zM586.4 375.3h1.4v1.4h-1.4zM577.7 378.0h1.4v1.4h-1.4zM580.6 378.1h1.4v1.4h-1.4zM583.5 378.2h1.4v1.4h-1.4zM586.4 378.3h1.4v1.4h-1.4zM591.3 369.4h1.4v1.4h-1.4zM594.2 369.5h1.4v1.4h-1.4zM597.1 369.6h1.4v1.4h-1.4zM600.0 369.7h1.4v1.4h-1.4zM591.3 372.4h1.4v1.4h-1.4zM594.2 372.5h1.4v1.4h-1.4zM597.1 372.6h1.4v1.4h-1.4zM600.0 372.7h1.4v1.4h-1.4zM591.3 375.5h1.4v1.4h-1.4zM594.2 375.5h1.4v1.4h-1.4zM597.1 375.6h1.4v1.4h-1.4zM600.0 375.7h1.4v1.4h-1.4zM591.3 378.5h1.4v1.4h-1.4zM594.2 378.6h1.4v1.4h-1.4zM597.1 378.6h1.4v1.4h-1.4zM600.0 378.7h1.4v1.4h-1.4zM604.9 369.8h1.4v1.4h-1.4zM607.8 369.9h1.4v1.4h-1.4zM610.7 370.0h1.4v1.4h-1.4zM613.6 370.1h1.4v1.4h-1.4zM604.9 372.8h1.4v1.4h-1.4zM607.8 372.9h1.4v1.4h-1.4zM610.7 373.0h1.4v1.4h-1.4zM613.6 373.1h1.4v1.4h-1.4zM604.9 375.9h1.4v1.4h-1.4zM607.8 376.0h1.4v1.4h-1.4zM610.7 376.0h1.4v1.4h-1.4zM613.6 376.1h1.4v1.4h-1.4zM604.9 378.9h1.4v1.4h-1.4zM607.8 379.0h1.4v1.4h-1.4zM610.7 379.1h1.4v1.4h-1.4zM613.6 379.2h1.4v1.4h-1.4zM482.5 380.9h1.4v1.4h-1.4zM485.4 381.0h1.4v1.4h-1.4zM488.3 381.1h1.4v1.4h-1.4zM491.2 381.2h1.4v1.4h-1.4zM482.5 383.9h1.4v1.4h-1.4zM485.4 384.0h1.4v1.4h-1.4zM488.3 384.1h1.4v1.4h-1.4zM491.2 384.2h1.4v1.4h-1.4zM482.5 386.8h1.4v1.4h-1.4zM485.4 386.9h1.4v1.4h-1.4zM488.3 387.0h1.4v1.4h-1.4zM491.2 387.1h1.4v1.4h-1.4zM482.5 389.8h1.4v1.4h-1.4zM485.4 389.9h1.4v1.4h-1.4zM488.3 390.0h1.4v1.4h-1.4zM491.2 390.1h1.4v1.4h-1.4zM496.1 381.4h1.4v1.4h-1.4zM499.0 381.5h1.4v1.4h-1.4zM501.9 381.6h1.4v1.4h-1.4zM504.8 381.6h1.4v1.4h-1.4zM496.1 384.3h1.4v1.4h-1.4zM499.0 384.4h1.4v1.4h-1.4zM501.9 384.5h1.4v1.4h-1.4zM504.8 384.6h1.4v1.4h-1.4zM496.1 387.3h1.4v1.4h-1.4zM499.0 387.4h1.4v1.4h-1.4zM501.9 387.5h1.4v1.4h-1.4zM504.8 387.6h1.4v1.4h-1.4zM496.1 390.3h1.4v1.4h-1.4zM499.0 390.4h1.4v1.4h-1.4zM501.9 390.5h1.4v1.4h-1.4zM504.8 390.6h1.4v1.4h-1.4zM509.7 381.8h1.4v1.4h-1.4zM512.6 381.9h1.4v1.4h-1.4zM515.5 382.0h1.4v1.4h-1.4zM518.4 382.1h1.4v1.4h-1.4zM509.7 384.8h1.4v1.4h-1.4zM512.6 384.9h1.4v1.4h-1.4zM515.5 385.0h1.4v1.4h-1.4zM518.4 385.1h1.4v1.4h-1.4zM509.7 387.7h1.4v1.4h-1.4zM512.6 387.8h1.4v1.4h-1.4zM515.5 387.9h1.4v1.4h-1.4zM518.4 388.0h1.4v1.4h-1.4zM509.7 390.7h1.4v1.4h-1.4zM512.6 390.8h1.4v1.4h-1.4zM515.5 390.9h1.4v1.4h-1.4zM518.4 391.0h1.4v1.4h-1.4zM523.3 382.2h1.4v1.4h-1.4zM526.2 382.3h1.4v1.4h-1.4zM529.1 382.4h1.4v1.4h-1.4zM532.0 382.5h1.4v1.4h-1.4zM523.3 385.2h1.4v1.4h-1.4zM526.2 385.3h1.4v1.4h-1.4zM529.1 385.4h1.4v1.4h-1.4zM532.0 385.5h1.4v1.4h-1.4zM523.3 388.2h1.4v1.4h-1.4zM526.2 388.3h1.4v1.4h-1.4zM529.1 388.4h1.4v1.4h-1.4zM532.0 388.5h1.4v1.4h-1.4zM523.3 391.2h1.4v1.4h-1.4zM526.2 391.3h1.4v1.4h-1.4zM529.1 391.4h1.4v1.4h-1.4zM532.0 391.5h1.4v1.4h-1.4zM536.9 382.7h1.4v1.4h-1.4zM539.8 382.8h1.4v1.4h-1.4zM542.7 382.9h1.4v1.4h-1.4zM545.6 383.0h1.4v1.4h-1.4zM536.9 385.7h1.4v1.4h-1.4zM539.8 385.8h1.4v1.4h-1.4zM542.7 385.9h1.4v1.4h-1.4zM545.6 386.0h1.4v1.4h-1.4zM536.9 388.7h1.4v1.4h-1.4zM539.8 388.8h1.4v1.4h-1.4zM542.7 388.8h1.4v1.4h-1.4zM545.6 388.9h1.4v1.4h-1.4zM536.9 391.6h1.4v1.4h-1.4zM539.8 391.7h1.4v1.4h-1.4zM542.7 391.8h1.4v1.4h-1.4zM545.6 391.9h1.4v1.4h-1.4zM550.5 383.1h1.4v1.4h-1.4zM553.4 383.2h1.4v1.4h-1.4zM556.3 383.3h1.4v1.4h-1.4zM559.2 383.4h1.4v1.4h-1.4zM550.5 386.1h1.4v1.4h-1.4zM553.4 386.2h1.4v1.4h-1.4zM556.3 386.3h1.4v1.4h-1.4zM559.2 386.4h1.4v1.4h-1.4zM550.5 389.1h1.4v1.4h-1.4zM553.4 389.2h1.4v1.4h-1.4zM556.3 389.3h1.4v1.4h-1.4zM559.2 389.4h1.4v1.4h-1.4zM550.5 392.1h1.4v1.4h-1.4zM553.4 392.2h1.4v1.4h-1.4zM556.3 392.3h1.4v1.4h-1.4zM559.2 392.4h1.4v1.4h-1.4zM564.1 383.6h1.4v1.4h-1.4zM567.0 383.7h1.4v1.4h-1.4zM569.9 383.8h1.4v1.4h-1.4zM572.8 383.8h1.4v1.4h-1.4zM564.1 386.6h1.4v1.4h-1.4zM567.0 386.7h1.4v1.4h-1.4zM569.9 386.8h1.4v1.4h-1.4zM572.8 386.8h1.4v1.4h-1.4zM564.1 389.6h1.4v1.4h-1.4zM567.0 389.7h1.4v1.4h-1.4zM569.9 389.8h1.4v1.4h-1.4zM572.8 389.9h1.4v1.4h-1.4zM564.1 392.6h1.4v1.4h-1.4zM567.0 392.7h1.4v1.4h-1.4zM569.9 392.8h1.4v1.4h-1.4zM572.8 392.9h1.4v1.4h-1.4zM577.7 384.0h1.4v1.4h-1.4zM580.6 384.1h1.4v1.4h-1.4zM583.5 384.2h1.4v1.4h-1.4zM586.4 384.3h1.4v1.4h-1.4zM577.7 387.0h1.4v1.4h-1.4zM580.6 387.1h1.4v1.4h-1.4zM583.5 387.2h1.4v1.4h-1.4zM586.4 387.3h1.4v1.4h-1.4zM577.7 390.0h1.4v1.4h-1.4zM580.6 390.1h1.4v1.4h-1.4zM583.5 390.2h1.4v1.4h-1.4zM586.4 390.3h1.4v1.4h-1.4zM577.7 393.0h1.4v1.4h-1.4zM580.6 393.1h1.4v1.4h-1.4zM583.5 393.2h1.4v1.4h-1.4zM586.4 393.3h1.4v1.4h-1.4zM591.3 384.4h1.4v1.4h-1.4zM594.2 384.5h1.4v1.4h-1.4zM597.1 384.6h1.4v1.4h-1.4zM600.0 384.7h1.4v1.4h-1.4zM591.3 387.5h1.4v1.4h-1.4zM594.2 387.6h1.4v1.4h-1.4zM597.1 387.6h1.4v1.4h-1.4zM600.0 387.7h1.4v1.4h-1.4zM591.3 390.5h1.4v1.4h-1.4zM594.2 390.6h1.4v1.4h-1.4zM597.1 390.7h1.4v1.4h-1.4zM600.0 390.8h1.4v1.4h-1.4zM591.3 393.5h1.4v1.4h-1.4zM594.2 393.6h1.4v1.4h-1.4zM597.1 393.7h1.4v1.4h-1.4zM600.0 393.8h1.4v1.4h-1.4zM604.9 384.9h1.4v1.4h-1.4zM607.8 385.0h1.4v1.4h-1.4zM610.7 385.1h1.4v1.4h-1.4zM613.6 385.2h1.4v1.4h-1.4zM604.9 387.9h1.4v1.4h-1.4zM607.8 388.0h1.4v1.4h-1.4zM610.7 388.1h1.4v1.4h-1.4zM613.6 388.2h1.4v1.4h-1.4zM604.9 390.9h1.4v1.4h-1.4zM607.8 391.0h1.4v1.4h-1.4zM610.7 391.1h1.4v1.4h-1.4zM613.6 391.2h1.4v1.4h-1.4zM604.9 393.9h1.4v1.4h-1.4zM607.8 394.0h1.4v1.4h-1.4zM610.7 394.1h1.4v1.4h-1.4zM613.6 394.2h1.4v1.4h-1.4zM482.5 395.7h1.4v1.4h-1.4zM485.4 395.8h1.4v1.4h-1.4zM488.3 395.9h1.4v1.4h-1.4zM491.2 396.0h1.4v1.4h-1.4zM482.5 398.6h1.4v1.4h-1.4zM485.4 398.7h1.4v1.4h-1.4zM488.3 398.8h1.4v1.4h-1.4zM491.2 398.9h1.4v1.4h-1.4zM482.5 401.6h1.4v1.4h-1.4zM485.4 401.7h1.4v1.4h-1.4zM488.3 401.8h1.4v1.4h-1.4zM491.2 401.9h1.4v1.4h-1.4zM482.5 404.5h1.4v1.4h-1.4zM485.4 404.6h1.4v1.4h-1.4zM488.3 404.8h1.4v1.4h-1.4zM491.2 404.9h1.4v1.4h-1.4zM496.1 396.1h1.4v1.4h-1.4zM499.0 396.2h1.4v1.4h-1.4zM501.9 396.3h1.4v1.4h-1.4zM504.8 396.4h1.4v1.4h-1.4zM496.1 399.1h1.4v1.4h-1.4zM499.0 399.2h1.4v1.4h-1.4zM501.9 399.3h1.4v1.4h-1.4zM504.8 399.4h1.4v1.4h-1.4zM496.1 402.1h1.4v1.4h-1.4zM499.0 402.2h1.4v1.4h-1.4zM501.9 402.3h1.4v1.4h-1.4zM504.8 402.4h1.4v1.4h-1.4zM496.1 405.0h1.4v1.4h-1.4zM499.0 405.1h1.4v1.4h-1.4zM501.9 405.2h1.4v1.4h-1.4zM504.8 405.4h1.4v1.4h-1.4zM509.7 396.6h1.4v1.4h-1.4zM512.6 396.7h1.4v1.4h-1.4zM515.5 396.8h1.4v1.4h-1.4zM518.4 396.9h1.4v1.4h-1.4zM509.7 399.6h1.4v1.4h-1.4zM512.6 399.7h1.4v1.4h-1.4zM515.5 399.8h1.4v1.4h-1.4zM518.4 399.9h1.4v1.4h-1.4zM509.7 402.6h1.4v1.4h-1.4zM512.6 402.7h1.4v1.4h-1.4zM515.5 402.8h1.4v1.4h-1.4zM518.4 402.9h1.4v1.4h-1.4zM509.7 405.5h1.4v1.4h-1.4zM512.6 405.6h1.4v1.4h-1.4zM515.5 405.7h1.4v1.4h-1.4zM518.4 405.8h1.4v1.4h-1.4zM523.3 397.1h1.4v1.4h-1.4zM526.2 397.2h1.4v1.4h-1.4zM529.1 397.3h1.4v1.4h-1.4zM532.0 397.4h1.4v1.4h-1.4zM523.3 400.1h1.4v1.4h-1.4zM526.2 400.2h1.4v1.4h-1.4zM529.1 400.3h1.4v1.4h-1.4zM532.0 400.4h1.4v1.4h-1.4zM523.3 403.0h1.4v1.4h-1.4zM526.2 403.2h1.4v1.4h-1.4zM529.1 403.3h1.4v1.4h-1.4zM532.0 403.4h1.4v1.4h-1.4zM523.3 406.0h1.4v1.4h-1.4zM526.2 406.1h1.4v1.4h-1.4zM529.1 406.2h1.4v1.4h-1.4zM532.0 406.3h1.4v1.4h-1.4zM536.9 397.6h1.4v1.4h-1.4zM539.8 397.7h1.4v1.4h-1.4zM542.7 397.8h1.4v1.4h-1.4zM545.6 397.9h1.4v1.4h-1.4zM536.9 400.5h1.4v1.4h-1.4zM539.8 400.7h1.4v1.4h-1.4zM542.7 400.8h1.4v1.4h-1.4zM545.6 400.9h1.4v1.4h-1.4zM536.9 403.5h1.4v1.4h-1.4zM539.8 403.6h1.4v1.4h-1.4zM542.7 403.7h1.4v1.4h-1.4zM545.6 403.8h1.4v1.4h-1.4zM536.9 406.5h1.4v1.4h-1.4zM539.8 406.6h1.4v1.4h-1.4zM542.7 406.7h1.4v1.4h-1.4zM545.6 406.8h1.4v1.4h-1.4zM550.5 398.0h1.4v1.4h-1.4zM553.4 398.1h1.4v1.4h-1.4zM556.3 398.2h1.4v1.4h-1.4zM559.2 398.3h1.4v1.4h-1.4zM550.5 401.0h1.4v1.4h-1.4zM553.4 401.1h1.4v1.4h-1.4zM556.3 401.2h1.4v1.4h-1.4zM559.2 401.3h1.4v1.4h-1.4zM550.5 404.0h1.4v1.4h-1.4zM553.4 404.1h1.4v1.4h-1.4zM556.3 404.2h1.4v1.4h-1.4zM559.2 404.3h1.4v1.4h-1.4zM550.5 407.0h1.4v1.4h-1.4zM553.4 407.1h1.4v1.4h-1.4zM556.3 407.2h1.4v1.4h-1.4zM559.2 407.3h1.4v1.4h-1.4zM564.1 398.5h1.4v1.4h-1.4zM567.0 398.6h1.4v1.4h-1.4zM569.9 398.7h1.4v1.4h-1.4zM572.8 398.8h1.4v1.4h-1.4zM564.1 401.5h1.4v1.4h-1.4zM567.0 401.6h1.4v1.4h-1.4zM569.9 401.7h1.4v1.4h-1.4zM572.8 401.8h1.4v1.4h-1.4zM564.1 404.5h1.4v1.4h-1.4zM567.0 404.6h1.4v1.4h-1.4zM569.9 404.7h1.4v1.4h-1.4zM572.8 404.8h1.4v1.4h-1.4zM564.1 407.5h1.4v1.4h-1.4zM567.0 407.6h1.4v1.4h-1.4zM569.9 407.7h1.4v1.4h-1.4zM572.8 407.8h1.4v1.4h-1.4zM577.7 399.0h1.4v1.4h-1.4zM580.6 399.1h1.4v1.4h-1.4zM583.5 399.2h1.4v1.4h-1.4zM586.4 399.3h1.4v1.4h-1.4zM577.7 402.0h1.4v1.4h-1.4zM580.6 402.1h1.4v1.4h-1.4zM583.5 402.2h1.4v1.4h-1.4zM586.4 402.3h1.4v1.4h-1.4zM577.7 405.0h1.4v1.4h-1.4zM580.6 405.1h1.4v1.4h-1.4zM583.5 405.2h1.4v1.4h-1.4zM586.4 405.3h1.4v1.4h-1.4zM577.7 408.0h1.4v1.4h-1.4zM580.6 408.1h1.4v1.4h-1.4zM583.5 408.2h1.4v1.4h-1.4zM586.4 408.3h1.4v1.4h-1.4zM591.3 399.5h1.4v1.4h-1.4zM594.2 399.6h1.4v1.4h-1.4zM597.1 399.7h1.4v1.4h-1.4zM600.0 399.8h1.4v1.4h-1.4zM591.3 402.5h1.4v1.4h-1.4zM594.2 402.6h1.4v1.4h-1.4zM597.1 402.7h1.4v1.4h-1.4zM600.0 402.8h1.4v1.4h-1.4zM591.3 405.5h1.4v1.4h-1.4zM594.2 405.6h1.4v1.4h-1.4zM597.1 405.7h1.4v1.4h-1.4zM600.0 405.8h1.4v1.4h-1.4zM591.3 408.5h1.4v1.4h-1.4zM594.2 408.6h1.4v1.4h-1.4zM597.1 408.7h1.4v1.4h-1.4zM600.0 408.8h1.4v1.4h-1.4zM604.9 399.9h1.4v1.4h-1.4zM607.8 400.0h1.4v1.4h-1.4zM610.7 400.1h1.4v1.4h-1.4zM613.6 400.2h1.4v1.4h-1.4zM604.9 403.0h1.4v1.4h-1.4zM607.8 403.1h1.4v1.4h-1.4zM610.7 403.2h1.4v1.4h-1.4zM613.6 403.3h1.4v1.4h-1.4zM604.9 406.0h1.4v1.4h-1.4zM607.8 406.1h1.4v1.4h-1.4zM610.7 406.2h1.4v1.4h-1.4zM613.6 406.3h1.4v1.4h-1.4zM604.9 409.0h1.4v1.4h-1.4zM607.8 409.1h1.4v1.4h-1.4zM610.7 409.2h1.4v1.4h-1.4zM613.6 409.3h1.4v1.4h-1.4zM482.5 410.4h1.4v1.4h-1.4zM485.4 410.5h1.4v1.4h-1.4zM488.3 410.6h1.4v1.4h-1.4zM491.2 410.7h1.4v1.4h-1.4zM482.5 413.4h1.4v1.4h-1.4zM485.4 413.5h1.4v1.4h-1.4zM488.3 413.6h1.4v1.4h-1.4zM491.2 413.7h1.4v1.4h-1.4zM482.5 416.3h1.4v1.4h-1.4zM485.4 416.4h1.4v1.4h-1.4zM488.3 416.5h1.4v1.4h-1.4zM491.2 416.7h1.4v1.4h-1.4zM482.5 419.3h1.4v1.4h-1.4zM485.4 419.4h1.4v1.4h-1.4zM488.3 419.5h1.4v1.4h-1.4zM491.2 419.6h1.4v1.4h-1.4zM496.1 410.9h1.4v1.4h-1.4zM499.0 411.0h1.4v1.4h-1.4zM501.9 411.1h1.4v1.4h-1.4zM504.8 411.2h1.4v1.4h-1.4zM496.1 413.9h1.4v1.4h-1.4zM499.0 414.0h1.4v1.4h-1.4zM501.9 414.1h1.4v1.4h-1.4zM504.8 414.2h1.4v1.4h-1.4zM496.1 416.8h1.4v1.4h-1.4zM499.0 417.0h1.4v1.4h-1.4zM501.9 417.1h1.4v1.4h-1.4zM504.8 417.2h1.4v1.4h-1.4zM496.1 419.8h1.4v1.4h-1.4zM499.0 419.9h1.4v1.4h-1.4zM501.9 420.0h1.4v1.4h-1.4zM504.8 420.2h1.4v1.4h-1.4zM509.7 411.4h1.4v1.4h-1.4zM512.6 411.5h1.4v1.4h-1.4zM515.5 411.6h1.4v1.4h-1.4zM518.4 411.8h1.4v1.4h-1.4zM509.7 414.4h1.4v1.4h-1.4zM512.6 414.5h1.4v1.4h-1.4zM515.5 414.6h1.4v1.4h-1.4zM518.4 414.7h1.4v1.4h-1.4zM509.7 417.4h1.4v1.4h-1.4zM512.6 417.5h1.4v1.4h-1.4zM515.5 417.6h1.4v1.4h-1.4zM518.4 417.7h1.4v1.4h-1.4zM509.7 420.3h1.4v1.4h-1.4zM512.6 420.5h1.4v1.4h-1.4zM515.5 420.6h1.4v1.4h-1.4zM518.4 420.7h1.4v1.4h-1.4zM523.3 411.9h1.4v1.4h-1.4zM526.2 412.0h1.4v1.4h-1.4zM529.1 412.2h1.4v1.4h-1.4zM532.0 412.3h1.4v1.4h-1.4zM523.3 414.9h1.4v1.4h-1.4zM526.2 415.0h1.4v1.4h-1.4zM529.1 415.1h1.4v1.4h-1.4zM532.0 415.2h1.4v1.4h-1.4zM523.3 417.9h1.4v1.4h-1.4zM526.2 418.0h1.4v1.4h-1.4zM529.1 418.1h1.4v1.4h-1.4zM532.0 418.2h1.4v1.4h-1.4zM523.3 420.9h1.4v1.4h-1.4zM526.2 421.0h1.4v1.4h-1.4zM529.1 421.1h1.4v1.4h-1.4zM532.0 421.2h1.4v1.4h-1.4zM536.9 412.4h1.4v1.4h-1.4zM539.8 412.6h1.4v1.4h-1.4zM542.7 412.7h1.4v1.4h-1.4zM545.6 412.8h1.4v1.4h-1.4zM536.9 415.4h1.4v1.4h-1.4zM539.8 415.5h1.4v1.4h-1.4zM542.7 415.7h1.4v1.4h-1.4zM545.6 415.8h1.4v1.4h-1.4zM536.9 418.4h1.4v1.4h-1.4zM539.8 418.5h1.4v1.4h-1.4zM542.7 418.6h1.4v1.4h-1.4zM545.6 418.8h1.4v1.4h-1.4zM536.9 421.4h1.4v1.4h-1.4zM539.8 421.5h1.4v1.4h-1.4zM542.7 421.6h1.4v1.4h-1.4zM545.6 421.7h1.4v1.4h-1.4zM550.5 413.0h1.4v1.4h-1.4zM553.4 413.1h1.4v1.4h-1.4zM556.3 413.2h1.4v1.4h-1.4zM559.2 413.3h1.4v1.4h-1.4zM550.5 415.9h1.4v1.4h-1.4zM553.4 416.1h1.4v1.4h-1.4zM556.3 416.2h1.4v1.4h-1.4zM559.2 416.3h1.4v1.4h-1.4zM550.5 418.9h1.4v1.4h-1.4zM553.4 419.1h1.4v1.4h-1.4zM556.3 419.2h1.4v1.4h-1.4zM559.2 419.3h1.4v1.4h-1.4zM550.5 421.9h1.4v1.4h-1.4zM553.4 422.0h1.4v1.4h-1.4zM556.3 422.2h1.4v1.4h-1.4zM559.2 422.3h1.4v1.4h-1.4zM564.1 413.5h1.4v1.4h-1.4zM567.0 413.6h1.4v1.4h-1.4zM569.9 413.7h1.4v1.4h-1.4zM572.8 413.8h1.4v1.4h-1.4zM564.1 416.5h1.4v1.4h-1.4zM567.0 416.6h1.4v1.4h-1.4zM569.9 416.7h1.4v1.4h-1.4zM572.8 416.8h1.4v1.4h-1.4zM564.1 419.5h1.4v1.4h-1.4zM567.0 419.6h1.4v1.4h-1.4zM569.9 419.7h1.4v1.4h-1.4zM572.8 419.8h1.4v1.4h-1.4zM564.1 422.5h1.4v1.4h-1.4zM567.0 422.6h1.4v1.4h-1.4zM569.9 422.7h1.4v1.4h-1.4zM572.8 422.8h1.4v1.4h-1.4zM577.7 414.0h1.4v1.4h-1.4zM580.6 414.1h1.4v1.4h-1.4zM583.5 414.2h1.4v1.4h-1.4zM586.4 414.3h1.4v1.4h-1.4zM577.7 417.0h1.4v1.4h-1.4zM580.6 417.1h1.4v1.4h-1.4zM583.5 417.2h1.4v1.4h-1.4zM586.4 417.3h1.4v1.4h-1.4zM577.7 420.0h1.4v1.4h-1.4zM580.6 420.1h1.4v1.4h-1.4zM583.5 420.2h1.4v1.4h-1.4zM586.4 420.3h1.4v1.4h-1.4zM577.7 423.0h1.4v1.4h-1.4zM580.6 423.1h1.4v1.4h-1.4zM583.5 423.2h1.4v1.4h-1.4zM586.4 423.3h1.4v1.4h-1.4zM591.3 414.5h1.4v1.4h-1.4zM594.2 414.6h1.4v1.4h-1.4zM597.1 414.7h1.4v1.4h-1.4zM600.0 414.8h1.4v1.4h-1.4zM591.3 417.5h1.4v1.4h-1.4zM594.2 417.6h1.4v1.4h-1.4zM597.1 417.7h1.4v1.4h-1.4zM600.0 417.8h1.4v1.4h-1.4zM591.3 420.5h1.4v1.4h-1.4zM594.2 420.6h1.4v1.4h-1.4zM597.1 420.7h1.4v1.4h-1.4zM600.0 420.8h1.4v1.4h-1.4zM591.3 423.5h1.4v1.4h-1.4zM594.2 423.6h1.4v1.4h-1.4zM597.1 423.7h1.4v1.4h-1.4zM600.0 423.9h1.4v1.4h-1.4zM604.9 415.0h1.4v1.4h-1.4zM607.8 415.1h1.4v1.4h-1.4zM610.7 415.2h1.4v1.4h-1.4zM613.6 415.3h1.4v1.4h-1.4zM604.9 418.0h1.4v1.4h-1.4zM607.8 418.1h1.4v1.4h-1.4zM610.7 418.2h1.4v1.4h-1.4zM613.6 418.3h1.4v1.4h-1.4zM604.9 421.0h1.4v1.4h-1.4zM607.8 421.1h1.4v1.4h-1.4zM610.7 421.3h1.4v1.4h-1.4zM613.6 421.4h1.4v1.4h-1.4zM604.9 424.1h1.4v1.4h-1.4zM607.8 424.2h1.4v1.4h-1.4zM610.7 424.3h1.4v1.4h-1.4zM613.6 424.4h1.4v1.4h-1.4zM482.5 425.1h1.4v1.4h-1.4zM485.4 425.3h1.4v1.4h-1.4zM488.3 425.4h1.4v1.4h-1.4zM491.2 425.5h1.4v1.4h-1.4zM482.5 428.1h1.4v1.4h-1.4zM485.4 428.2h1.4v1.4h-1.4zM488.3 428.3h1.4v1.4h-1.4zM491.2 428.5h1.4v1.4h-1.4zM482.5 431.1h1.4v1.4h-1.4zM485.4 431.2h1.4v1.4h-1.4zM488.3 431.3h1.4v1.4h-1.4zM491.2 431.4h1.4v1.4h-1.4zM482.5 434.0h1.4v1.4h-1.4zM485.4 434.1h1.4v1.4h-1.4zM488.3 434.3h1.4v1.4h-1.4zM491.2 434.4h1.4v1.4h-1.4zM496.1 425.7h1.4v1.4h-1.4zM499.0 425.8h1.4v1.4h-1.4zM501.9 425.9h1.4v1.4h-1.4zM504.8 426.0h1.4v1.4h-1.4zM496.1 428.7h1.4v1.4h-1.4zM499.0 428.8h1.4v1.4h-1.4zM501.9 428.9h1.4v1.4h-1.4zM504.8 429.0h1.4v1.4h-1.4zM496.1 431.6h1.4v1.4h-1.4zM499.0 431.7h1.4v1.4h-1.4zM501.9 431.9h1.4v1.4h-1.4zM504.8 432.0h1.4v1.4h-1.4zM496.1 434.6h1.4v1.4h-1.4zM499.0 434.7h1.4v1.4h-1.4zM501.9 434.8h1.4v1.4h-1.4zM504.8 434.9h1.4v1.4h-1.4zM509.7 426.2h1.4v1.4h-1.4zM512.6 426.4h1.4v1.4h-1.4zM515.5 426.5h1.4v1.4h-1.4zM518.4 426.6h1.4v1.4h-1.4zM509.7 429.2h1.4v1.4h-1.4zM512.6 429.3h1.4v1.4h-1.4zM515.5 429.4h1.4v1.4h-1.4zM518.4 429.6h1.4v1.4h-1.4zM509.7 432.2h1.4v1.4h-1.4zM512.6 432.3h1.4v1.4h-1.4zM515.5 432.4h1.4v1.4h-1.4zM518.4 432.5h1.4v1.4h-1.4zM509.7 435.2h1.4v1.4h-1.4zM512.6 435.3h1.4v1.4h-1.4zM515.5 435.4h1.4v1.4h-1.4zM518.4 435.5h1.4v1.4h-1.4zM523.3 426.8h1.4v1.4h-1.4zM526.2 426.9h1.4v1.4h-1.4zM529.1 427.0h1.4v1.4h-1.4zM532.0 427.1h1.4v1.4h-1.4zM523.3 429.8h1.4v1.4h-1.4zM526.2 429.9h1.4v1.4h-1.4zM529.1 430.0h1.4v1.4h-1.4zM532.0 430.1h1.4v1.4h-1.4zM523.3 432.7h1.4v1.4h-1.4zM526.2 432.9h1.4v1.4h-1.4zM529.1 433.0h1.4v1.4h-1.4zM532.0 433.1h1.4v1.4h-1.4zM523.3 435.7h1.4v1.4h-1.4zM526.2 435.8h1.4v1.4h-1.4zM529.1 436.0h1.4v1.4h-1.4zM532.0 436.1h1.4v1.4h-1.4zM536.9 427.3h1.4v1.4h-1.4zM539.8 427.4h1.4v1.4h-1.4zM542.7 427.6h1.4v1.4h-1.4zM545.6 427.7h1.4v1.4h-1.4zM536.9 430.3h1.4v1.4h-1.4zM539.8 430.4h1.4v1.4h-1.4zM542.7 430.5h1.4v1.4h-1.4zM545.6 430.7h1.4v1.4h-1.4zM536.9 433.3h1.4v1.4h-1.4zM539.8 433.4h1.4v1.4h-1.4zM542.7 433.5h1.4v1.4h-1.4zM545.6 433.7h1.4v1.4h-1.4zM536.9 436.3h1.4v1.4h-1.4zM539.8 436.4h1.4v1.4h-1.4zM542.7 436.5h1.4v1.4h-1.4zM545.6 436.6h1.4v1.4h-1.4zM550.5 427.9h1.4v1.4h-1.4zM553.4 428.0h1.4v1.4h-1.4zM556.3 428.1h1.4v1.4h-1.4zM559.2 428.2h1.4v1.4h-1.4zM550.5 430.9h1.4v1.4h-1.4zM553.4 431.0h1.4v1.4h-1.4zM556.3 431.1h1.4v1.4h-1.4zM559.2 431.2h1.4v1.4h-1.4zM550.5 433.9h1.4v1.4h-1.4zM553.4 434.0h1.4v1.4h-1.4zM556.3 434.1h1.4v1.4h-1.4zM559.2 434.2h1.4v1.4h-1.4zM550.5 436.8h1.4v1.4h-1.4zM553.4 437.0h1.4v1.4h-1.4zM556.3 437.1h1.4v1.4h-1.4zM559.2 437.2h1.4v1.4h-1.4zM564.1 428.4h1.4v1.4h-1.4zM567.0 428.5h1.4v1.4h-1.4zM569.9 428.6h1.4v1.4h-1.4zM572.8 428.8h1.4v1.4h-1.4zM564.1 431.4h1.4v1.4h-1.4zM567.0 431.5h1.4v1.4h-1.4zM569.9 431.6h1.4v1.4h-1.4zM572.8 431.8h1.4v1.4h-1.4zM564.1 434.4h1.4v1.4h-1.4zM567.0 434.5h1.4v1.4h-1.4zM569.9 434.7h1.4v1.4h-1.4zM572.8 434.8h1.4v1.4h-1.4zM564.1 437.4h1.4v1.4h-1.4zM567.0 437.5h1.4v1.4h-1.4zM569.9 437.7h1.4v1.4h-1.4zM572.8 437.8h1.4v1.4h-1.4zM577.7 429.0h1.4v1.4h-1.4zM580.6 429.1h1.4v1.4h-1.4zM583.5 429.2h1.4v1.4h-1.4zM586.4 429.3h1.4v1.4h-1.4zM577.7 432.0h1.4v1.4h-1.4zM580.6 432.1h1.4v1.4h-1.4zM583.5 432.2h1.4v1.4h-1.4zM586.4 432.3h1.4v1.4h-1.4zM577.7 435.0h1.4v1.4h-1.4zM580.6 435.1h1.4v1.4h-1.4zM583.5 435.2h1.4v1.4h-1.4zM586.4 435.3h1.4v1.4h-1.4zM577.7 438.0h1.4v1.4h-1.4zM580.6 438.1h1.4v1.4h-1.4zM583.5 438.2h1.4v1.4h-1.4zM586.4 438.3h1.4v1.4h-1.4zM591.3 429.5h1.4v1.4h-1.4zM594.2 429.6h1.4v1.4h-1.4zM597.1 429.7h1.4v1.4h-1.4zM600.0 429.8h1.4v1.4h-1.4zM591.3 432.5h1.4v1.4h-1.4zM594.2 432.6h1.4v1.4h-1.4zM597.1 432.7h1.4v1.4h-1.4zM600.0 432.9h1.4v1.4h-1.4zM591.3 435.5h1.4v1.4h-1.4zM594.2 435.6h1.4v1.4h-1.4zM597.1 435.8h1.4v1.4h-1.4zM600.0 435.9h1.4v1.4h-1.4zM591.3 438.5h1.4v1.4h-1.4zM594.2 438.7h1.4v1.4h-1.4zM597.1 438.8h1.4v1.4h-1.4zM600.0 438.9h1.4v1.4h-1.4zM604.9 430.0h1.4v1.4h-1.4zM607.8 430.2h1.4v1.4h-1.4zM610.7 430.3h1.4v1.4h-1.4zM613.6 430.4h1.4v1.4h-1.4zM604.9 433.1h1.4v1.4h-1.4zM607.8 433.2h1.4v1.4h-1.4zM610.7 433.3h1.4v1.4h-1.4zM613.6 433.4h1.4v1.4h-1.4zM604.9 436.1h1.4v1.4h-1.4zM607.8 436.2h1.4v1.4h-1.4zM610.7 436.3h1.4v1.4h-1.4zM613.6 436.4h1.4v1.4h-1.4zM604.9 439.1h1.4v1.4h-1.4zM607.8 439.2h1.4v1.4h-1.4zM610.7 439.3h1.4v1.4h-1.4zM613.6 439.5h1.4v1.4h-1.4zM482.5 439.9h1.4v1.4h-1.4zM485.4 440.0h1.4v1.4h-1.4zM488.3 440.1h1.4v1.4h-1.4zM491.2 440.3h1.4v1.4h-1.4zM482.5 442.8h1.4v1.4h-1.4zM485.4 443.0h1.4v1.4h-1.4zM488.3 443.1h1.4v1.4h-1.4zM491.2 443.2h1.4v1.4h-1.4zM482.5 445.8h1.4v1.4h-1.4zM485.4 445.9h1.4v1.4h-1.4zM488.3 446.1h1.4v1.4h-1.4zM491.2 446.2h1.4v1.4h-1.4zM482.5 448.8h1.4v1.4h-1.4zM485.4 448.9h1.4v1.4h-1.4zM488.3 449.0h1.4v1.4h-1.4zM491.2 449.1h1.4v1.4h-1.4zM496.1 440.5h1.4v1.4h-1.4zM499.0 440.6h1.4v1.4h-1.4zM501.9 440.7h1.4v1.4h-1.4zM504.8 440.8h1.4v1.4h-1.4zM496.1 443.4h1.4v1.4h-1.4zM499.0 443.6h1.4v1.4h-1.4zM501.9 443.7h1.4v1.4h-1.4zM504.8 443.8h1.4v1.4h-1.4zM496.1 446.4h1.4v1.4h-1.4zM499.0 446.5h1.4v1.4h-1.4zM501.9 446.7h1.4v1.4h-1.4zM504.8 446.8h1.4v1.4h-1.4zM496.1 449.4h1.4v1.4h-1.4zM499.0 449.5h1.4v1.4h-1.4zM501.9 449.6h1.4v1.4h-1.4zM504.8 449.7h1.4v1.4h-1.4zM509.7 441.0h1.4v1.4h-1.4zM512.6 441.2h1.4v1.4h-1.4zM515.5 441.3h1.4v1.4h-1.4zM518.4 441.4h1.4v1.4h-1.4zM509.7 444.0h1.4v1.4h-1.4zM512.6 444.1h1.4v1.4h-1.4zM515.5 444.3h1.4v1.4h-1.4zM518.4 444.4h1.4v1.4h-1.4zM509.7 447.0h1.4v1.4h-1.4zM512.6 447.1h1.4v1.4h-1.4zM515.5 447.2h1.4v1.4h-1.4zM518.4 447.4h1.4v1.4h-1.4zM509.7 450.0h1.4v1.4h-1.4zM512.6 450.1h1.4v1.4h-1.4zM515.5 450.2h1.4v1.4h-1.4zM518.4 450.3h1.4v1.4h-1.4zM523.3 441.6h1.4v1.4h-1.4zM526.2 441.7h1.4v1.4h-1.4zM529.1 441.9h1.4v1.4h-1.4zM532.0 442.0h1.4v1.4h-1.4zM523.3 444.6h1.4v1.4h-1.4zM526.2 444.7h1.4v1.4h-1.4zM529.1 444.9h1.4v1.4h-1.4zM532.0 445.0h1.4v1.4h-1.4zM523.3 447.6h1.4v1.4h-1.4zM526.2 447.7h1.4v1.4h-1.4zM529.1 447.8h1.4v1.4h-1.4zM532.0 448.0h1.4v1.4h-1.4zM523.3 450.6h1.4v1.4h-1.4zM526.2 450.7h1.4v1.4h-1.4zM529.1 450.8h1.4v1.4h-1.4zM532.0 450.9h1.4v1.4h-1.4zM536.9 442.2h1.4v1.4h-1.4zM539.8 442.3h1.4v1.4h-1.4zM542.7 442.5h1.4v1.4h-1.4zM545.6 442.6h1.4v1.4h-1.4zM536.9 445.2h1.4v1.4h-1.4zM539.8 445.3h1.4v1.4h-1.4zM542.7 445.4h1.4v1.4h-1.4zM545.6 445.6h1.4v1.4h-1.4zM536.9 448.2h1.4v1.4h-1.4zM539.8 448.3h1.4v1.4h-1.4zM542.7 448.4h1.4v1.4h-1.4zM545.6 448.6h1.4v1.4h-1.4zM536.9 451.2h1.4v1.4h-1.4zM539.8 451.3h1.4v1.4h-1.4zM542.7 451.4h1.4v1.4h-1.4zM545.6 451.5h1.4v1.4h-1.4zM550.5 442.8h1.4v1.4h-1.4zM553.4 442.9h1.4v1.4h-1.4zM556.3 443.0h1.4v1.4h-1.4zM559.2 443.2h1.4v1.4h-1.4zM550.5 445.8h1.4v1.4h-1.4zM553.4 445.9h1.4v1.4h-1.4zM556.3 446.0h1.4v1.4h-1.4zM559.2 446.2h1.4v1.4h-1.4zM550.5 448.8h1.4v1.4h-1.4zM553.4 448.9h1.4v1.4h-1.4zM556.3 449.0h1.4v1.4h-1.4zM559.2 449.1h1.4v1.4h-1.4zM550.5 451.8h1.4v1.4h-1.4zM553.4 451.9h1.4v1.4h-1.4zM556.3 452.0h1.4v1.4h-1.4zM559.2 452.1h1.4v1.4h-1.4zM564.1 443.4h1.4v1.4h-1.4zM567.0 443.5h1.4v1.4h-1.4zM569.9 443.6h1.4v1.4h-1.4zM572.8 443.7h1.4v1.4h-1.4zM564.1 446.4h1.4v1.4h-1.4zM567.0 446.5h1.4v1.4h-1.4zM569.9 446.6h1.4v1.4h-1.4zM572.8 446.7h1.4v1.4h-1.4zM564.1 449.4h1.4v1.4h-1.4zM567.0 449.5h1.4v1.4h-1.4zM569.9 449.6h1.4v1.4h-1.4zM572.8 449.7h1.4v1.4h-1.4zM564.1 452.4h1.4v1.4h-1.4zM567.0 452.5h1.4v1.4h-1.4zM569.9 452.6h1.4v1.4h-1.4zM572.8 452.7h1.4v1.4h-1.4zM577.7 443.9h1.4v1.4h-1.4zM580.6 444.1h1.4v1.4h-1.4zM583.5 444.2h1.4v1.4h-1.4zM586.4 444.3h1.4v1.4h-1.4zM577.7 446.9h1.4v1.4h-1.4zM580.6 447.1h1.4v1.4h-1.4zM583.5 447.2h1.4v1.4h-1.4zM586.4 447.3h1.4v1.4h-1.4zM577.7 450.0h1.4v1.4h-1.4zM580.6 450.1h1.4v1.4h-1.4zM583.5 450.2h1.4v1.4h-1.4zM586.4 450.3h1.4v1.4h-1.4zM577.7 453.0h1.4v1.4h-1.4zM580.6 453.1h1.4v1.4h-1.4zM583.5 453.2h1.4v1.4h-1.4zM586.4 453.3h1.4v1.4h-1.4zM591.3 444.5h1.4v1.4h-1.4zM594.2 444.6h1.4v1.4h-1.4zM597.1 444.8h1.4v1.4h-1.4zM600.0 444.9h1.4v1.4h-1.4zM591.3 447.5h1.4v1.4h-1.4zM594.2 447.7h1.4v1.4h-1.4zM597.1 447.8h1.4v1.4h-1.4zM600.0 447.9h1.4v1.4h-1.4zM591.3 450.5h1.4v1.4h-1.4zM594.2 450.7h1.4v1.4h-1.4zM597.1 450.8h1.4v1.4h-1.4zM600.0 450.9h1.4v1.4h-1.4zM591.3 453.6h1.4v1.4h-1.4zM594.2 453.7h1.4v1.4h-1.4zM597.1 453.8h1.4v1.4h-1.4zM600.0 453.9h1.4v1.4h-1.4zM604.9 445.1h1.4v1.4h-1.4zM607.8 445.2h1.4v1.4h-1.4zM610.7 445.3h1.4v1.4h-1.4zM613.6 445.5h1.4v1.4h-1.4zM604.9 448.1h1.4v1.4h-1.4zM607.8 448.2h1.4v1.4h-1.4zM610.7 448.4h1.4v1.4h-1.4zM613.6 448.5h1.4v1.4h-1.4zM604.9 451.1h1.4v1.4h-1.4zM607.8 451.3h1.4v1.4h-1.4zM610.7 451.4h1.4v1.4h-1.4zM613.6 451.5h1.4v1.4h-1.4zM604.9 454.2h1.4v1.4h-1.4zM607.8 454.3h1.4v1.4h-1.4zM610.7 454.4h1.4v1.4h-1.4zM613.6 454.5h1.4v1.4h-1.4zM482.5 454.6h1.4v1.4h-1.4zM485.4 454.8h1.4v1.4h-1.4zM488.3 454.9h1.4v1.4h-1.4zM491.2 455.0h1.4v1.4h-1.4zM482.5 457.6h1.4v1.4h-1.4zM485.4 457.7h1.4v1.4h-1.4zM488.3 457.9h1.4v1.4h-1.4zM491.2 458.0h1.4v1.4h-1.4zM482.5 460.5h1.4v1.4h-1.4zM485.4 460.7h1.4v1.4h-1.4zM488.3 460.8h1.4v1.4h-1.4zM491.2 460.9h1.4v1.4h-1.4zM482.5 463.5h1.4v1.4h-1.4zM485.4 463.6h1.4v1.4h-1.4zM488.3 463.8h1.4v1.4h-1.4zM491.2 463.9h1.4v1.4h-1.4zM496.1 455.2h1.4v1.4h-1.4zM499.0 455.4h1.4v1.4h-1.4zM501.9 455.5h1.4v1.4h-1.4zM504.8 455.6h1.4v1.4h-1.4zM496.1 458.2h1.4v1.4h-1.4zM499.0 458.3h1.4v1.4h-1.4zM501.9 458.5h1.4v1.4h-1.4zM504.8 458.6h1.4v1.4h-1.4zM496.1 461.2h1.4v1.4h-1.4zM499.0 461.3h1.4v1.4h-1.4zM501.9 461.4h1.4v1.4h-1.4zM504.8 461.6h1.4v1.4h-1.4zM496.1 464.1h1.4v1.4h-1.4zM499.0 464.3h1.4v1.4h-1.4zM501.9 464.4h1.4v1.4h-1.4zM504.8 464.5h1.4v1.4h-1.4zM509.7 455.9h1.4v1.4h-1.4zM512.6 456.0h1.4v1.4h-1.4zM515.5 456.1h1.4v1.4h-1.4zM518.4 456.3h1.4v1.4h-1.4zM509.7 458.8h1.4v1.4h-1.4zM512.6 459.0h1.4v1.4h-1.4zM515.5 459.1h1.4v1.4h-1.4zM518.4 459.2h1.4v1.4h-1.4zM509.7 461.8h1.4v1.4h-1.4zM512.6 461.9h1.4v1.4h-1.4zM515.5 462.1h1.4v1.4h-1.4zM518.4 462.2h1.4v1.4h-1.4zM509.7 464.8h1.4v1.4h-1.4zM512.6 464.9h1.4v1.4h-1.4zM515.5 465.0h1.4v1.4h-1.4zM518.4 465.2h1.4v1.4h-1.4zM523.3 456.5h1.4v1.4h-1.4zM526.2 456.6h1.4v1.4h-1.4zM529.1 456.7h1.4v1.4h-1.4zM532.0 456.9h1.4v1.4h-1.4zM523.3 459.5h1.4v1.4h-1.4zM526.2 459.6h1.4v1.4h-1.4zM529.1 459.7h1.4v1.4h-1.4zM532.0 459.8h1.4v1.4h-1.4zM523.3 462.4h1.4v1.4h-1.4zM526.2 462.6h1.4v1.4h-1.4zM529.1 462.7h1.4v1.4h-1.4zM532.0 462.8h1.4v1.4h-1.4zM523.3 465.4h1.4v1.4h-1.4zM526.2 465.5h1.4v1.4h-1.4zM529.1 465.7h1.4v1.4h-1.4zM532.0 465.8h1.4v1.4h-1.4zM536.9 457.1h1.4v1.4h-1.4zM539.8 457.2h1.4v1.4h-1.4zM542.7 457.3h1.4v1.4h-1.4zM545.6 457.5h1.4v1.4h-1.4zM536.9 460.1h1.4v1.4h-1.4zM539.8 460.2h1.4v1.4h-1.4zM542.7 460.3h1.4v1.4h-1.4zM545.6 460.5h1.4v1.4h-1.4zM536.9 463.1h1.4v1.4h-1.4zM539.8 463.2h1.4v1.4h-1.4zM542.7 463.3h1.4v1.4h-1.4zM545.6 463.5h1.4v1.4h-1.4zM536.9 466.0h1.4v1.4h-1.4zM539.8 466.2h1.4v1.4h-1.4zM542.7 466.3h1.4v1.4h-1.4zM545.6 466.4h1.4v1.4h-1.4zM550.5 457.7h1.4v1.4h-1.4zM553.4 457.8h1.4v1.4h-1.4zM556.3 458.0h1.4v1.4h-1.4zM559.2 458.1h1.4v1.4h-1.4zM550.5 460.7h1.4v1.4h-1.4zM553.4 460.8h1.4v1.4h-1.4zM556.3 461.0h1.4v1.4h-1.4zM559.2 461.1h1.4v1.4h-1.4zM550.5 463.7h1.4v1.4h-1.4zM553.4 463.8h1.4v1.4h-1.4zM556.3 464.0h1.4v1.4h-1.4zM559.2 464.1h1.4v1.4h-1.4zM550.5 466.7h1.4v1.4h-1.4zM553.4 466.8h1.4v1.4h-1.4zM556.3 466.9h1.4v1.4h-1.4zM559.2 467.1h1.4v1.4h-1.4zM564.1 458.3h1.4v1.4h-1.4zM567.0 458.4h1.4v1.4h-1.4zM569.9 458.6h1.4v1.4h-1.4zM572.8 458.7h1.4v1.4h-1.4zM564.1 461.3h1.4v1.4h-1.4zM567.0 461.4h1.4v1.4h-1.4zM569.9 461.6h1.4v1.4h-1.4zM572.8 461.7h1.4v1.4h-1.4zM564.1 464.3h1.4v1.4h-1.4zM567.0 464.4h1.4v1.4h-1.4zM569.9 464.6h1.4v1.4h-1.4zM572.8 464.7h1.4v1.4h-1.4zM564.1 467.3h1.4v1.4h-1.4zM567.0 467.4h1.4v1.4h-1.4zM569.9 467.6h1.4v1.4h-1.4zM572.8 467.7h1.4v1.4h-1.4zM577.7 458.9h1.4v1.4h-1.4zM580.6 459.1h1.4v1.4h-1.4zM583.5 459.2h1.4v1.4h-1.4zM586.4 459.3h1.4v1.4h-1.4zM577.7 461.9h1.4v1.4h-1.4zM580.6 462.1h1.4v1.4h-1.4zM583.5 462.2h1.4v1.4h-1.4zM586.4 462.3h1.4v1.4h-1.4zM577.7 464.9h1.4v1.4h-1.4zM580.6 465.1h1.4v1.4h-1.4zM583.5 465.2h1.4v1.4h-1.4zM586.4 465.3h1.4v1.4h-1.4zM577.7 467.9h1.4v1.4h-1.4zM580.6 468.1h1.4v1.4h-1.4zM583.5 468.2h1.4v1.4h-1.4zM586.4 468.4h1.4v1.4h-1.4zM591.3 459.5h1.4v1.4h-1.4zM594.2 459.7h1.4v1.4h-1.4zM597.1 459.8h1.4v1.4h-1.4zM600.0 459.9h1.4v1.4h-1.4zM591.3 462.6h1.4v1.4h-1.4zM594.2 462.7h1.4v1.4h-1.4zM597.1 462.8h1.4v1.4h-1.4zM600.0 463.0h1.4v1.4h-1.4zM591.3 465.6h1.4v1.4h-1.4zM594.2 465.7h1.4v1.4h-1.4zM597.1 465.8h1.4v1.4h-1.4zM600.0 466.0h1.4v1.4h-1.4zM591.3 468.6h1.4v1.4h-1.4zM594.2 468.7h1.4v1.4h-1.4zM597.1 468.9h1.4v1.4h-1.4zM600.0 469.0h1.4v1.4h-1.4zM604.9 460.2h1.4v1.4h-1.4zM607.8 460.3h1.4v1.4h-1.4zM610.7 460.4h1.4v1.4h-1.4zM613.6 460.5h1.4v1.4h-1.4zM604.9 463.2h1.4v1.4h-1.4zM607.8 463.3h1.4v1.4h-1.4zM610.7 463.4h1.4v1.4h-1.4zM613.6 463.6h1.4v1.4h-1.4zM604.9 466.2h1.4v1.4h-1.4zM607.8 466.3h1.4v1.4h-1.4zM610.7 466.5h1.4v1.4h-1.4zM613.6 466.6h1.4v1.4h-1.4zM604.9 469.2h1.4v1.4h-1.4zM607.8 469.4h1.4v1.4h-1.4zM610.7 469.5h1.4v1.4h-1.4zM613.6 469.6h1.4v1.4h-1.4zM482.5 469.4h1.4v1.4h-1.4zM485.4 469.5h1.4v1.4h-1.4zM488.3 469.6h1.4v1.4h-1.4zM491.2 469.8h1.4v1.4h-1.4zM482.5 472.3h1.4v1.4h-1.4zM485.4 472.5h1.4v1.4h-1.4zM488.3 472.6h1.4v1.4h-1.4zM491.2 472.7h1.4v1.4h-1.4zM482.5 475.3h1.4v1.4h-1.4zM485.4 475.4h1.4v1.4h-1.4zM488.3 475.6h1.4v1.4h-1.4zM491.2 475.7h1.4v1.4h-1.4zM482.5 478.2h1.4v1.4h-1.4zM485.4 478.4h1.4v1.4h-1.4zM488.3 478.5h1.4v1.4h-1.4zM491.2 478.7h1.4v1.4h-1.4zM496.1 470.0h1.4v1.4h-1.4zM499.0 470.2h1.4v1.4h-1.4zM501.9 470.3h1.4v1.4h-1.4zM504.8 470.4h1.4v1.4h-1.4zM496.1 473.0h1.4v1.4h-1.4zM499.0 473.1h1.4v1.4h-1.4zM501.9 473.3h1.4v1.4h-1.4zM504.8 473.4h1.4v1.4h-1.4zM496.1 476.0h1.4v1.4h-1.4zM499.0 476.1h1.4v1.4h-1.4zM501.9 476.2h1.4v1.4h-1.4zM504.8 476.4h1.4v1.4h-1.4zM496.1 478.9h1.4v1.4h-1.4zM499.0 479.1h1.4v1.4h-1.4zM501.9 479.2h1.4v1.4h-1.4zM504.8 479.3h1.4v1.4h-1.4zM509.7 470.7h1.4v1.4h-1.4zM512.6 470.8h1.4v1.4h-1.4zM515.5 470.9h1.4v1.4h-1.4zM518.4 471.1h1.4v1.4h-1.4zM509.7 473.6h1.4v1.4h-1.4zM512.6 473.8h1.4v1.4h-1.4zM515.5 473.9h1.4v1.4h-1.4zM518.4 474.1h1.4v1.4h-1.4zM509.7 476.6h1.4v1.4h-1.4zM512.6 476.8h1.4v1.4h-1.4zM515.5 476.9h1.4v1.4h-1.4zM518.4 477.0h1.4v1.4h-1.4zM509.7 479.6h1.4v1.4h-1.4zM512.6 479.7h1.4v1.4h-1.4zM515.5 479.9h1.4v1.4h-1.4zM518.4 480.0h1.4v1.4h-1.4zM523.3 471.3h1.4v1.4h-1.4zM526.2 471.5h1.4v1.4h-1.4zM529.1 471.6h1.4v1.4h-1.4zM532.0 471.7h1.4v1.4h-1.4zM523.3 474.3h1.4v1.4h-1.4zM526.2 474.4h1.4v1.4h-1.4zM529.1 474.6h1.4v1.4h-1.4zM532.0 474.7h1.4v1.4h-1.4zM523.3 477.3h1.4v1.4h-1.4zM526.2 477.4h1.4v1.4h-1.4zM529.1 477.6h1.4v1.4h-1.4zM532.0 477.7h1.4v1.4h-1.4zM523.3 480.3h1.4v1.4h-1.4zM526.2 480.4h1.4v1.4h-1.4zM529.1 480.5h1.4v1.4h-1.4zM532.0 480.7h1.4v1.4h-1.4zM536.9 472.0h1.4v1.4h-1.4zM539.8 472.1h1.4v1.4h-1.4zM542.7 472.2h1.4v1.4h-1.4zM545.6 472.4h1.4v1.4h-1.4zM536.9 475.0h1.4v1.4h-1.4zM539.8 475.1h1.4v1.4h-1.4zM542.7 475.2h1.4v1.4h-1.4zM545.6 475.4h1.4v1.4h-1.4zM536.9 477.9h1.4v1.4h-1.4zM539.8 478.1h1.4v1.4h-1.4zM542.7 478.2h1.4v1.4h-1.4zM545.6 478.4h1.4v1.4h-1.4zM536.9 480.9h1.4v1.4h-1.4zM539.8 481.1h1.4v1.4h-1.4zM542.7 481.2h1.4v1.4h-1.4zM545.6 481.4h1.4v1.4h-1.4zM550.5 472.6h1.4v1.4h-1.4zM553.4 472.8h1.4v1.4h-1.4zM556.3 472.9h1.4v1.4h-1.4zM559.2 473.0h1.4v1.4h-1.4zM550.5 475.6h1.4v1.4h-1.4zM553.4 475.7h1.4v1.4h-1.4zM556.3 475.9h1.4v1.4h-1.4zM559.2 476.0h1.4v1.4h-1.4zM550.5 478.6h1.4v1.4h-1.4zM553.4 478.7h1.4v1.4h-1.4zM556.3 478.9h1.4v1.4h-1.4zM559.2 479.0h1.4v1.4h-1.4zM550.5 481.6h1.4v1.4h-1.4zM553.4 481.7h1.4v1.4h-1.4zM556.3 481.9h1.4v1.4h-1.4zM559.2 482.0h1.4v1.4h-1.4zM564.1 473.3h1.4v1.4h-1.4zM567.0 473.4h1.4v1.4h-1.4zM569.9 473.5h1.4v1.4h-1.4zM572.8 473.7h1.4v1.4h-1.4zM564.1 476.3h1.4v1.4h-1.4zM567.0 476.4h1.4v1.4h-1.4zM569.9 476.5h1.4v1.4h-1.4zM572.8 476.7h1.4v1.4h-1.4zM564.1 479.3h1.4v1.4h-1.4zM567.0 479.4h1.4v1.4h-1.4zM569.9 479.5h1.4v1.4h-1.4zM572.8 479.7h1.4v1.4h-1.4zM564.1 482.3h1.4v1.4h-1.4zM567.0 482.4h1.4v1.4h-1.4zM569.9 482.5h1.4v1.4h-1.4zM572.8 482.7h1.4v1.4h-1.4zM577.7 473.9h1.4v1.4h-1.4zM580.6 474.0h1.4v1.4h-1.4zM583.5 474.2h1.4v1.4h-1.4zM586.4 474.3h1.4v1.4h-1.4zM577.7 476.9h1.4v1.4h-1.4zM580.6 477.1h1.4v1.4h-1.4zM583.5 477.2h1.4v1.4h-1.4zM586.4 477.3h1.4v1.4h-1.4zM577.7 479.9h1.4v1.4h-1.4zM580.6 480.1h1.4v1.4h-1.4zM583.5 480.2h1.4v1.4h-1.4zM586.4 480.3h1.4v1.4h-1.4zM577.7 482.9h1.4v1.4h-1.4zM580.6 483.1h1.4v1.4h-1.4zM583.5 483.2h1.4v1.4h-1.4zM586.4 483.4h1.4v1.4h-1.4zM591.3 474.6h1.4v1.4h-1.4zM594.2 474.7h1.4v1.4h-1.4zM597.1 474.8h1.4v1.4h-1.4zM600.0 475.0h1.4v1.4h-1.4zM591.3 477.6h1.4v1.4h-1.4zM594.2 477.7h1.4v1.4h-1.4zM597.1 477.9h1.4v1.4h-1.4zM600.0 478.0h1.4v1.4h-1.4zM591.3 480.6h1.4v1.4h-1.4zM594.2 480.7h1.4v1.4h-1.4zM597.1 480.9h1.4v1.4h-1.4zM600.0 481.0h1.4v1.4h-1.4zM591.3 483.6h1.4v1.4h-1.4zM594.2 483.7h1.4v1.4h-1.4zM597.1 483.9h1.4v1.4h-1.4zM600.0 484.0h1.4v1.4h-1.4zM604.9 475.2h1.4v1.4h-1.4zM607.8 475.3h1.4v1.4h-1.4zM610.7 475.5h1.4v1.4h-1.4zM613.6 475.6h1.4v1.4h-1.4zM604.9 478.2h1.4v1.4h-1.4zM607.8 478.4h1.4v1.4h-1.4zM610.7 478.5h1.4v1.4h-1.4zM613.6 478.6h1.4v1.4h-1.4zM604.9 481.2h1.4v1.4h-1.4zM607.8 481.4h1.4v1.4h-1.4zM610.7 481.5h1.4v1.4h-1.4zM613.6 481.7h1.4v1.4h-1.4zM604.9 484.3h1.4v1.4h-1.4zM607.8 484.4h1.4v1.4h-1.4zM610.7 484.6h1.4v1.4h-1.4zM613.6 484.7h1.4v1.4h-1.4zM482.5 484.1h1.4v1.4h-1.4zM485.4 484.3h1.4v1.4h-1.4zM488.3 484.4h1.4v1.4h-1.4zM491.2 484.6h1.4v1.4h-1.4zM482.5 487.1h1.4v1.4h-1.4zM485.4 487.2h1.4v1.4h-1.4zM488.3 487.4h1.4v1.4h-1.4zM491.2 487.5h1.4v1.4h-1.4zM482.5 490.0h1.4v1.4h-1.4zM485.4 490.2h1.4v1.4h-1.4zM488.3 490.3h1.4v1.4h-1.4zM491.2 490.5h1.4v1.4h-1.4zM482.5 493.0h1.4v1.4h-1.4zM485.4 493.1h1.4v1.4h-1.4zM488.3 493.3h1.4v1.4h-1.4zM491.2 493.4h1.4v1.4h-1.4zM496.1 484.8h1.4v1.4h-1.4zM499.0 484.9h1.4v1.4h-1.4zM501.9 485.1h1.4v1.4h-1.4zM504.8 485.2h1.4v1.4h-1.4zM496.1 487.8h1.4v1.4h-1.4zM499.0 487.9h1.4v1.4h-1.4zM501.9 488.1h1.4v1.4h-1.4zM504.8 488.2h1.4v1.4h-1.4zM496.1 490.7h1.4v1.4h-1.4zM499.0 490.9h1.4v1.4h-1.4zM501.9 491.0h1.4v1.4h-1.4zM504.8 491.2h1.4v1.4h-1.4zM496.1 493.7h1.4v1.4h-1.4zM499.0 493.8h1.4v1.4h-1.4zM501.9 494.0h1.4v1.4h-1.4zM504.8 494.1h1.4v1.4h-1.4zM509.7 485.5h1.4v1.4h-1.4zM512.6 485.6h1.4v1.4h-1.4zM515.5 485.8h1.4v1.4h-1.4zM518.4 485.9h1.4v1.4h-1.4zM509.7 488.5h1.4v1.4h-1.4zM512.6 488.6h1.4v1.4h-1.4zM515.5 488.7h1.4v1.4h-1.4zM518.4 488.9h1.4v1.4h-1.4zM509.7 491.4h1.4v1.4h-1.4zM512.6 491.6h1.4v1.4h-1.4zM515.5 491.7h1.4v1.4h-1.4zM518.4 491.9h1.4v1.4h-1.4zM509.7 494.4h1.4v1.4h-1.4zM512.6 494.5h1.4v1.4h-1.4zM515.5 494.7h1.4v1.4h-1.4zM518.4 494.8h1.4v1.4h-1.4zM523.3 486.2h1.4v1.4h-1.4zM526.2 486.3h1.4v1.4h-1.4zM529.1 486.5h1.4v1.4h-1.4zM532.0 486.6h1.4v1.4h-1.4zM523.3 489.1h1.4v1.4h-1.4zM526.2 489.3h1.4v1.4h-1.4zM529.1 489.4h1.4v1.4h-1.4zM532.0 489.6h1.4v1.4h-1.4zM523.3 492.1h1.4v1.4h-1.4zM526.2 492.3h1.4v1.4h-1.4zM529.1 492.4h1.4v1.4h-1.4zM532.0 492.6h1.4v1.4h-1.4zM523.3 495.1h1.4v1.4h-1.4zM526.2 495.3h1.4v1.4h-1.4zM529.1 495.4h1.4v1.4h-1.4zM532.0 495.6h1.4v1.4h-1.4zM536.9 486.8h1.4v1.4h-1.4zM539.8 487.0h1.4v1.4h-1.4zM542.7 487.1h1.4v1.4h-1.4zM545.6 487.3h1.4v1.4h-1.4zM536.9 489.8h1.4v1.4h-1.4zM539.8 490.0h1.4v1.4h-1.4zM542.7 490.1h1.4v1.4h-1.4zM545.6 490.3h1.4v1.4h-1.4zM536.9 492.8h1.4v1.4h-1.4zM539.8 493.0h1.4v1.4h-1.4zM542.7 493.1h1.4v1.4h-1.4zM545.6 493.3h1.4v1.4h-1.4zM536.9 495.8h1.4v1.4h-1.4zM539.8 496.0h1.4v1.4h-1.4zM542.7 496.1h1.4v1.4h-1.4zM545.6 496.3h1.4v1.4h-1.4zM550.5 487.5h1.4v1.4h-1.4zM553.4 487.7h1.4v1.4h-1.4zM556.3 487.8h1.4v1.4h-1.4zM559.2 488.0h1.4v1.4h-1.4zM550.5 490.5h1.4v1.4h-1.4zM553.4 490.7h1.4v1.4h-1.4zM556.3 490.8h1.4v1.4h-1.4zM559.2 491.0h1.4v1.4h-1.4zM550.5 493.5h1.4v1.4h-1.4zM553.4 493.7h1.4v1.4h-1.4zM556.3 493.8h1.4v1.4h-1.4zM559.2 494.0h1.4v1.4h-1.4zM550.5 496.5h1.4v1.4h-1.4zM553.4 496.7h1.4v1.4h-1.4zM556.3 496.8h1.4v1.4h-1.4zM559.2 497.0h1.4v1.4h-1.4zM564.1 488.2h1.4v1.4h-1.4zM567.0 488.4h1.4v1.4h-1.4zM569.9 488.5h1.4v1.4h-1.4zM572.8 488.6h1.4v1.4h-1.4zM564.1 491.2h1.4v1.4h-1.4zM567.0 491.4h1.4v1.4h-1.4zM569.9 491.5h1.4v1.4h-1.4zM572.8 491.7h1.4v1.4h-1.4zM564.1 494.2h1.4v1.4h-1.4zM567.0 494.4h1.4v1.4h-1.4zM569.9 494.5h1.4v1.4h-1.4zM572.8 494.7h1.4v1.4h-1.4zM564.1 497.2h1.4v1.4h-1.4zM567.0 497.4h1.4v1.4h-1.4zM569.9 497.5h1.4v1.4h-1.4zM572.8 497.7h1.4v1.4h-1.4zM577.7 488.9h1.4v1.4h-1.4zM580.6 489.0h1.4v1.4h-1.4zM583.5 489.2h1.4v1.4h-1.4zM586.4 489.3h1.4v1.4h-1.4zM577.7 491.9h1.4v1.4h-1.4zM580.6 492.0h1.4v1.4h-1.4zM583.5 492.2h1.4v1.4h-1.4zM586.4 492.3h1.4v1.4h-1.4zM577.7 494.9h1.4v1.4h-1.4zM580.6 495.1h1.4v1.4h-1.4zM583.5 495.2h1.4v1.4h-1.4zM586.4 495.4h1.4v1.4h-1.4zM577.7 497.9h1.4v1.4h-1.4zM580.6 498.1h1.4v1.4h-1.4zM583.5 498.2h1.4v1.4h-1.4zM586.4 498.4h1.4v1.4h-1.4zM591.3 489.6h1.4v1.4h-1.4zM594.2 489.7h1.4v1.4h-1.4zM597.1 489.9h1.4v1.4h-1.4zM600.0 490.0h1.4v1.4h-1.4zM591.3 492.6h1.4v1.4h-1.4zM594.2 492.7h1.4v1.4h-1.4zM597.1 492.9h1.4v1.4h-1.4zM600.0 493.0h1.4v1.4h-1.4zM591.3 495.6h1.4v1.4h-1.4zM594.2 495.8h1.4v1.4h-1.4zM597.1 495.9h1.4v1.4h-1.4zM600.0 496.1h1.4v1.4h-1.4zM591.3 498.6h1.4v1.4h-1.4zM594.2 498.8h1.4v1.4h-1.4zM597.1 498.9h1.4v1.4h-1.4zM600.0 499.1h1.4v1.4h-1.4zM604.9 490.3h1.4v1.4h-1.4zM607.8 490.4h1.4v1.4h-1.4zM610.7 490.6h1.4v1.4h-1.4zM613.6 490.7h1.4v1.4h-1.4zM604.9 493.3h1.4v1.4h-1.4zM607.8 493.4h1.4v1.4h-1.4zM610.7 493.6h1.4v1.4h-1.4zM613.6 493.7h1.4v1.4h-1.4zM604.9 496.3h1.4v1.4h-1.4zM607.8 496.5h1.4v1.4h-1.4zM610.7 496.6h1.4v1.4h-1.4zM613.6 496.7h1.4v1.4h-1.4zM604.9 499.3h1.4v1.4h-1.4zM607.8 499.5h1.4v1.4h-1.4zM610.7 499.6h1.4v1.4h-1.4zM613.6 499.8h1.4v1.4h-1.4zM482.5 498.9h1.4v1.4h-1.4zM485.4 499.0h1.4v1.4h-1.4zM488.3 499.2h1.4v1.4h-1.4zM491.2 499.3h1.4v1.4h-1.4zM482.5 501.8h1.4v1.4h-1.4zM485.4 502.0h1.4v1.4h-1.4zM488.3 502.1h1.4v1.4h-1.4zM491.2 502.3h1.4v1.4h-1.4zM482.5 504.8h1.4v1.4h-1.4zM485.4 504.9h1.4v1.4h-1.4zM488.3 505.1h1.4v1.4h-1.4zM491.2 505.2h1.4v1.4h-1.4zM482.5 507.7h1.4v1.4h-1.4zM485.4 507.9h1.4v1.4h-1.4zM488.3 508.0h1.4v1.4h-1.4zM491.2 508.2h1.4v1.4h-1.4zM496.1 499.6h1.4v1.4h-1.4zM499.0 499.7h1.4v1.4h-1.4zM501.9 499.9h1.4v1.4h-1.4zM504.8 500.0h1.4v1.4h-1.4zM496.1 502.5h1.4v1.4h-1.4zM499.0 502.7h1.4v1.4h-1.4zM501.9 502.8h1.4v1.4h-1.4zM504.8 503.0h1.4v1.4h-1.4zM496.1 505.5h1.4v1.4h-1.4zM499.0 505.7h1.4v1.4h-1.4zM501.9 505.8h1.4v1.4h-1.4zM504.8 506.0h1.4v1.4h-1.4zM496.1 508.5h1.4v1.4h-1.4zM499.0 508.6h1.4v1.4h-1.4zM501.9 508.8h1.4v1.4h-1.4zM504.8 508.9h1.4v1.4h-1.4zM509.7 500.3h1.4v1.4h-1.4zM512.6 500.4h1.4v1.4h-1.4zM515.5 500.6h1.4v1.4h-1.4zM518.4 500.7h1.4v1.4h-1.4zM509.7 503.3h1.4v1.4h-1.4zM512.6 503.4h1.4v1.4h-1.4zM515.5 503.6h1.4v1.4h-1.4zM518.4 503.7h1.4v1.4h-1.4zM509.7 506.2h1.4v1.4h-1.4zM512.6 506.4h1.4v1.4h-1.4zM515.5 506.5h1.4v1.4h-1.4zM518.4 506.7h1.4v1.4h-1.4zM509.7 509.2h1.4v1.4h-1.4zM512.6 509.4h1.4v1.4h-1.4zM515.5 509.5h1.4v1.4h-1.4zM518.4 509.7h1.4v1.4h-1.4zM523.3 501.0h1.4v1.4h-1.4zM526.2 501.2h1.4v1.4h-1.4zM529.1 501.3h1.4v1.4h-1.4zM532.0 501.5h1.4v1.4h-1.4zM523.3 504.0h1.4v1.4h-1.4zM526.2 504.1h1.4v1.4h-1.4zM529.1 504.3h1.4v1.4h-1.4zM532.0 504.5h1.4v1.4h-1.4zM523.3 507.0h1.4v1.4h-1.4zM526.2 507.1h1.4v1.4h-1.4zM529.1 507.3h1.4v1.4h-1.4zM532.0 507.4h1.4v1.4h-1.4zM523.3 509.9h1.4v1.4h-1.4zM526.2 510.1h1.4v1.4h-1.4zM529.1 510.3h1.4v1.4h-1.4zM532.0 510.4h1.4v1.4h-1.4zM536.9 501.7h1.4v1.4h-1.4zM539.8 501.9h1.4v1.4h-1.4zM542.7 502.0h1.4v1.4h-1.4zM545.6 502.2h1.4v1.4h-1.4zM536.9 504.7h1.4v1.4h-1.4zM539.8 504.9h1.4v1.4h-1.4zM542.7 505.0h1.4v1.4h-1.4zM545.6 505.2h1.4v1.4h-1.4zM536.9 507.7h1.4v1.4h-1.4zM539.8 507.9h1.4v1.4h-1.4zM542.7 508.0h1.4v1.4h-1.4zM545.6 508.2h1.4v1.4h-1.4zM536.9 510.7h1.4v1.4h-1.4zM539.8 510.8h1.4v1.4h-1.4zM542.7 511.0h1.4v1.4h-1.4zM545.6 511.2h1.4v1.4h-1.4zM550.5 502.4h1.4v1.4h-1.4zM553.4 502.6h1.4v1.4h-1.4zM556.3 502.7h1.4v1.4h-1.4zM559.2 502.9h1.4v1.4h-1.4zM550.5 505.4h1.4v1.4h-1.4zM553.4 505.6h1.4v1.4h-1.4zM556.3 505.7h1.4v1.4h-1.4zM559.2 505.9h1.4v1.4h-1.4zM550.5 508.4h1.4v1.4h-1.4zM553.4 508.6h1.4v1.4h-1.4zM556.3 508.7h1.4v1.4h-1.4zM559.2 508.9h1.4v1.4h-1.4zM550.5 511.4h1.4v1.4h-1.4zM553.4 511.6h1.4v1.4h-1.4zM556.3 511.7h1.4v1.4h-1.4zM559.2 511.9h1.4v1.4h-1.4zM564.1 503.2h1.4v1.4h-1.4zM567.0 503.3h1.4v1.4h-1.4zM569.9 503.5h1.4v1.4h-1.4zM572.8 503.6h1.4v1.4h-1.4zM564.1 506.2h1.4v1.4h-1.4zM567.0 506.3h1.4v1.4h-1.4zM569.9 506.5h1.4v1.4h-1.4zM572.8 506.6h1.4v1.4h-1.4zM564.1 509.2h1.4v1.4h-1.4zM567.0 509.3h1.4v1.4h-1.4zM569.9 509.5h1.4v1.4h-1.4zM572.8 509.6h1.4v1.4h-1.4zM564.1 512.2h1.4v1.4h-1.4zM567.0 512.3h1.4v1.4h-1.4zM569.9 512.5h1.4v1.4h-1.4zM572.8 512.6h1.4v1.4h-1.4zM577.7 503.9h1.4v1.4h-1.4zM580.6 504.0h1.4v1.4h-1.4zM583.5 504.2h1.4v1.4h-1.4zM586.4 504.3h1.4v1.4h-1.4zM577.7 506.9h1.4v1.4h-1.4zM580.6 507.0h1.4v1.4h-1.4zM583.5 507.2h1.4v1.4h-1.4zM586.4 507.4h1.4v1.4h-1.4zM577.7 509.9h1.4v1.4h-1.4zM580.6 510.0h1.4v1.4h-1.4zM583.5 510.2h1.4v1.4h-1.4zM586.4 510.4h1.4v1.4h-1.4zM577.7 512.9h1.4v1.4h-1.4zM580.6 513.1h1.4v1.4h-1.4zM583.5 513.2h1.4v1.4h-1.4zM586.4 513.4h1.4v1.4h-1.4zM591.3 504.6h1.4v1.4h-1.4zM594.2 504.8h1.4v1.4h-1.4zM597.1 504.9h1.4v1.4h-1.4zM600.0 505.1h1.4v1.4h-1.4zM591.3 507.6h1.4v1.4h-1.4zM594.2 507.8h1.4v1.4h-1.4zM597.1 507.9h1.4v1.4h-1.4zM600.0 508.1h1.4v1.4h-1.4zM591.3 510.6h1.4v1.4h-1.4zM594.2 510.8h1.4v1.4h-1.4zM597.1 510.9h1.4v1.4h-1.4zM600.0 511.1h1.4v1.4h-1.4zM591.3 513.6h1.4v1.4h-1.4zM594.2 513.8h1.4v1.4h-1.4zM597.1 514.0h1.4v1.4h-1.4zM600.0 514.1h1.4v1.4h-1.4zM604.9 505.3h1.4v1.4h-1.4zM607.8 505.5h1.4v1.4h-1.4zM610.7 505.6h1.4v1.4h-1.4zM613.6 505.8h1.4v1.4h-1.4zM604.9 508.3h1.4v1.4h-1.4zM607.8 508.5h1.4v1.4h-1.4zM610.7 508.6h1.4v1.4h-1.4zM613.6 508.8h1.4v1.4h-1.4zM604.9 511.4h1.4v1.4h-1.4zM607.8 511.5h1.4v1.4h-1.4zM610.7 511.7h1.4v1.4h-1.4zM613.6 511.8h1.4v1.4h-1.4zM604.9 514.4h1.4v1.4h-1.4zM607.8 514.5h1.4v1.4h-1.4zM610.7 514.7h1.4v1.4h-1.4zM613.6 514.9h1.4v1.4h-1.4zM482.5 513.6h1.4v1.4h-1.4zM485.4 513.8h1.4v1.4h-1.4zM488.3 513.9h1.4v1.4h-1.4zM491.2 514.1h1.4v1.4h-1.4zM482.5 516.6h1.4v1.4h-1.4zM485.4 516.7h1.4v1.4h-1.4zM488.3 516.9h1.4v1.4h-1.4zM491.2 517.0h1.4v1.4h-1.4zM482.5 519.5h1.4v1.4h-1.4zM485.4 519.7h1.4v1.4h-1.4zM488.3 519.8h1.4v1.4h-1.4zM491.2 520.0h1.4v1.4h-1.4zM482.5 522.5h1.4v1.4h-1.4zM485.4 522.6h1.4v1.4h-1.4zM488.3 522.8h1.4v1.4h-1.4zM491.2 523.0h1.4v1.4h-1.4zM496.1 514.3h1.4v1.4h-1.4zM499.0 514.5h1.4v1.4h-1.4zM501.9 514.7h1.4v1.4h-1.4zM504.8 514.8h1.4v1.4h-1.4zM496.1 517.3h1.4v1.4h-1.4zM499.0 517.5h1.4v1.4h-1.4zM501.9 517.6h1.4v1.4h-1.4zM504.8 517.8h1.4v1.4h-1.4zM496.1 520.3h1.4v1.4h-1.4zM499.0 520.4h1.4v1.4h-1.4zM501.9 520.6h1.4v1.4h-1.4zM504.8 520.8h1.4v1.4h-1.4zM496.1 523.2h1.4v1.4h-1.4zM499.0 523.4h1.4v1.4h-1.4zM501.9 523.6h1.4v1.4h-1.4zM504.8 523.7h1.4v1.4h-1.4zM509.7 515.1h1.4v1.4h-1.4zM512.6 515.3h1.4v1.4h-1.4zM515.5 515.4h1.4v1.4h-1.4zM518.4 515.6h1.4v1.4h-1.4zM509.7 518.1h1.4v1.4h-1.4zM512.6 518.2h1.4v1.4h-1.4zM515.5 518.4h1.4v1.4h-1.4zM518.4 518.6h1.4v1.4h-1.4zM509.7 521.0h1.4v1.4h-1.4zM512.6 521.2h1.4v1.4h-1.4zM515.5 521.4h1.4v1.4h-1.4zM518.4 521.5h1.4v1.4h-1.4zM509.7 524.0h1.4v1.4h-1.4zM512.6 524.2h1.4v1.4h-1.4zM515.5 524.3h1.4v1.4h-1.4zM518.4 524.5h1.4v1.4h-1.4zM523.3 515.9h1.4v1.4h-1.4zM526.2 516.0h1.4v1.4h-1.4zM529.1 516.2h1.4v1.4h-1.4zM532.0 516.3h1.4v1.4h-1.4zM523.3 518.8h1.4v1.4h-1.4zM526.2 519.0h1.4v1.4h-1.4zM529.1 519.2h1.4v1.4h-1.4zM532.0 519.3h1.4v1.4h-1.4zM523.3 521.8h1.4v1.4h-1.4zM526.2 522.0h1.4v1.4h-1.4zM529.1 522.1h1.4v1.4h-1.4zM532.0 522.3h1.4v1.4h-1.4zM523.3 524.8h1.4v1.4h-1.4zM526.2 525.0h1.4v1.4h-1.4zM529.1 525.1h1.4v1.4h-1.4zM532.0 525.3h1.4v1.4h-1.4zM536.9 516.6h1.4v1.4h-1.4zM539.8 516.8h1.4v1.4h-1.4zM542.7 516.9h1.4v1.4h-1.4zM545.6 517.1h1.4v1.4h-1.4zM536.9 519.6h1.4v1.4h-1.4zM539.8 519.8h1.4v1.4h-1.4zM542.7 519.9h1.4v1.4h-1.4zM545.6 520.1h1.4v1.4h-1.4zM536.9 522.6h1.4v1.4h-1.4zM539.8 522.7h1.4v1.4h-1.4zM542.7 522.9h1.4v1.4h-1.4zM545.6 523.1h1.4v1.4h-1.4zM536.9 525.6h1.4v1.4h-1.4zM539.8 525.7h1.4v1.4h-1.4zM542.7 525.9h1.4v1.4h-1.4zM545.6 526.1h1.4v1.4h-1.4zM550.5 517.4h1.4v1.4h-1.4zM553.4 517.5h1.4v1.4h-1.4zM556.3 517.7h1.4v1.4h-1.4zM559.2 517.8h1.4v1.4h-1.4zM550.5 520.4h1.4v1.4h-1.4zM553.4 520.5h1.4v1.4h-1.4zM556.3 520.7h1.4v1.4h-1.4zM559.2 520.8h1.4v1.4h-1.4zM550.5 523.3h1.4v1.4h-1.4zM553.4 523.5h1.4v1.4h-1.4zM556.3 523.7h1.4v1.4h-1.4zM559.2 523.8h1.4v1.4h-1.4zM550.5 526.3h1.4v1.4h-1.4zM553.4 526.5h1.4v1.4h-1.4zM556.3 526.7h1.4v1.4h-1.4zM559.2 526.8h1.4v1.4h-1.4zM564.1 518.1h1.4v1.4h-1.4zM567.0 518.3h1.4v1.4h-1.4zM569.9 518.4h1.4v1.4h-1.4zM572.8 518.6h1.4v1.4h-1.4zM564.1 521.1h1.4v1.4h-1.4zM567.0 521.3h1.4v1.4h-1.4zM569.9 521.4h1.4v1.4h-1.4zM572.8 521.6h1.4v1.4h-1.4zM564.1 524.1h1.4v1.4h-1.4zM567.0 524.3h1.4v1.4h-1.4zM569.9 524.4h1.4v1.4h-1.4zM572.8 524.6h1.4v1.4h-1.4zM564.1 527.1h1.4v1.4h-1.4zM567.0 527.3h1.4v1.4h-1.4zM569.9 527.4h1.4v1.4h-1.4zM572.8 527.6h1.4v1.4h-1.4zM577.7 518.9h1.4v1.4h-1.4zM580.6 519.0h1.4v1.4h-1.4zM583.5 519.2h1.4v1.4h-1.4zM586.4 519.3h1.4v1.4h-1.4zM577.7 521.9h1.4v1.4h-1.4zM580.6 522.0h1.4v1.4h-1.4zM583.5 522.2h1.4v1.4h-1.4zM586.4 522.4h1.4v1.4h-1.4zM577.7 524.9h1.4v1.4h-1.4zM580.6 525.0h1.4v1.4h-1.4zM583.5 525.2h1.4v1.4h-1.4zM586.4 525.4h1.4v1.4h-1.4zM577.7 527.9h1.4v1.4h-1.4zM580.6 528.1h1.4v1.4h-1.4zM583.5 528.2h1.4v1.4h-1.4zM586.4 528.4h1.4v1.4h-1.4zM591.3 519.6h1.4v1.4h-1.4zM594.2 519.8h1.4v1.4h-1.4zM597.1 519.9h1.4v1.4h-1.4zM600.0 520.1h1.4v1.4h-1.4zM591.3 522.6h1.4v1.4h-1.4zM594.2 522.8h1.4v1.4h-1.4zM597.1 523.0h1.4v1.4h-1.4zM600.0 523.1h1.4v1.4h-1.4zM591.3 525.6h1.4v1.4h-1.4zM594.2 525.8h1.4v1.4h-1.4zM597.1 526.0h1.4v1.4h-1.4zM600.0 526.1h1.4v1.4h-1.4zM591.3 528.7h1.4v1.4h-1.4zM594.2 528.8h1.4v1.4h-1.4zM597.1 529.0h1.4v1.4h-1.4zM600.0 529.2h1.4v1.4h-1.4zM604.9 520.4h1.4v1.4h-1.4zM607.8 520.5h1.4v1.4h-1.4zM610.7 520.7h1.4v1.4h-1.4zM613.6 520.9h1.4v1.4h-1.4zM604.9 523.4h1.4v1.4h-1.4zM607.8 523.6h1.4v1.4h-1.4zM610.7 523.7h1.4v1.4h-1.4zM613.6 523.9h1.4v1.4h-1.4zM604.9 526.4h1.4v1.4h-1.4zM607.8 526.6h1.4v1.4h-1.4zM610.7 526.7h1.4v1.4h-1.4zM613.6 526.9h1.4v1.4h-1.4zM604.9 529.4h1.4v1.4h-1.4zM607.8 529.6h1.4v1.4h-1.4zM610.7 529.8h1.4v1.4h-1.4zM613.6 529.9h1.4v1.4h-1.4zM482.5 528.3h1.4v1.4h-1.4zM485.4 528.5h1.4v1.4h-1.4zM488.3 528.7h1.4v1.4h-1.4zM491.2 528.8h1.4v1.4h-1.4zM482.5 531.3h1.4v1.4h-1.4zM485.4 531.5h1.4v1.4h-1.4zM488.3 531.6h1.4v1.4h-1.4zM491.2 531.8h1.4v1.4h-1.4zM482.5 534.3h1.4v1.4h-1.4zM485.4 534.4h1.4v1.4h-1.4zM488.3 534.6h1.4v1.4h-1.4zM491.2 534.8h1.4v1.4h-1.4zM482.5 537.2h1.4v1.4h-1.4zM485.4 537.4h1.4v1.4h-1.4zM488.3 537.6h1.4v1.4h-1.4zM491.2 537.7h1.4v1.4h-1.4zM496.1 529.1h1.4v1.4h-1.4zM499.0 529.3h1.4v1.4h-1.4zM501.9 529.5h1.4v1.4h-1.4zM504.8 529.6h1.4v1.4h-1.4zM496.1 532.1h1.4v1.4h-1.4zM499.0 532.3h1.4v1.4h-1.4zM501.9 532.4h1.4v1.4h-1.4zM504.8 532.6h1.4v1.4h-1.4zM496.1 535.1h1.4v1.4h-1.4zM499.0 535.2h1.4v1.4h-1.4zM501.9 535.4h1.4v1.4h-1.4zM504.8 535.6h1.4v1.4h-1.4zM496.1 538.0h1.4v1.4h-1.4zM499.0 538.2h1.4v1.4h-1.4zM501.9 538.4h1.4v1.4h-1.4zM504.8 538.5h1.4v1.4h-1.4zM509.7 529.9h1.4v1.4h-1.4zM512.6 530.1h1.4v1.4h-1.4zM515.5 530.2h1.4v1.4h-1.4zM518.4 530.4h1.4v1.4h-1.4zM509.7 532.9h1.4v1.4h-1.4zM512.6 533.1h1.4v1.4h-1.4zM515.5 533.2h1.4v1.4h-1.4zM518.4 533.4h1.4v1.4h-1.4zM509.7 535.9h1.4v1.4h-1.4zM512.6 536.0h1.4v1.4h-1.4zM515.5 536.2h1.4v1.4h-1.4zM518.4 536.4h1.4v1.4h-1.4zM509.7 538.8h1.4v1.4h-1.4zM512.6 539.0h1.4v1.4h-1.4zM515.5 539.2h1.4v1.4h-1.4zM518.4 539.3h1.4v1.4h-1.4zM523.3 530.7h1.4v1.4h-1.4zM526.2 530.9h1.4v1.4h-1.4zM529.1 531.0h1.4v1.4h-1.4zM532.0 531.2h1.4v1.4h-1.4zM523.3 533.7h1.4v1.4h-1.4zM526.2 533.8h1.4v1.4h-1.4zM529.1 534.0h1.4v1.4h-1.4zM532.0 534.2h1.4v1.4h-1.4zM523.3 536.7h1.4v1.4h-1.4zM526.2 536.8h1.4v1.4h-1.4zM529.1 537.0h1.4v1.4h-1.4zM532.0 537.2h1.4v1.4h-1.4zM523.3 539.6h1.4v1.4h-1.4zM526.2 539.8h1.4v1.4h-1.4zM529.1 540.0h1.4v1.4h-1.4zM532.0 540.2h1.4v1.4h-1.4zM536.9 531.5h1.4v1.4h-1.4zM539.8 531.7h1.4v1.4h-1.4zM542.7 531.8h1.4v1.4h-1.4zM545.6 532.0h1.4v1.4h-1.4zM536.9 534.5h1.4v1.4h-1.4zM539.8 534.6h1.4v1.4h-1.4zM542.7 534.8h1.4v1.4h-1.4zM545.6 535.0h1.4v1.4h-1.4zM536.9 537.5h1.4v1.4h-1.4zM539.8 537.6h1.4v1.4h-1.4zM542.7 537.8h1.4v1.4h-1.4zM545.6 538.0h1.4v1.4h-1.4zM536.9 540.4h1.4v1.4h-1.4zM539.8 540.6h1.4v1.4h-1.4zM542.7 540.8h1.4v1.4h-1.4zM545.6 541.0h1.4v1.4h-1.4zM550.5 532.3h1.4v1.4h-1.4zM553.4 532.4h1.4v1.4h-1.4zM556.3 532.6h1.4v1.4h-1.4zM559.2 532.8h1.4v1.4h-1.4zM550.5 535.3h1.4v1.4h-1.4zM553.4 535.4h1.4v1.4h-1.4zM556.3 535.6h1.4v1.4h-1.4zM559.2 535.8h1.4v1.4h-1.4zM550.5 538.3h1.4v1.4h-1.4zM553.4 538.4h1.4v1.4h-1.4zM556.3 538.6h1.4v1.4h-1.4zM559.2 538.8h1.4v1.4h-1.4zM550.5 541.3h1.4v1.4h-1.4zM553.4 541.4h1.4v1.4h-1.4zM556.3 541.6h1.4v1.4h-1.4zM559.2 541.8h1.4v1.4h-1.4zM564.1 533.1h1.4v1.4h-1.4zM567.0 533.2h1.4v1.4h-1.4zM569.9 533.4h1.4v1.4h-1.4zM572.8 533.6h1.4v1.4h-1.4zM564.1 536.1h1.4v1.4h-1.4zM567.0 536.2h1.4v1.4h-1.4zM569.9 536.4h1.4v1.4h-1.4zM572.8 536.6h1.4v1.4h-1.4zM564.1 539.1h1.4v1.4h-1.4zM567.0 539.2h1.4v1.4h-1.4zM569.9 539.4h1.4v1.4h-1.4zM572.8 539.6h1.4v1.4h-1.4zM564.1 542.1h1.4v1.4h-1.4zM567.0 542.2h1.4v1.4h-1.4zM569.9 542.4h1.4v1.4h-1.4zM572.8 542.6h1.4v1.4h-1.4zM577.7 533.8h1.4v1.4h-1.4zM580.6 534.0h1.4v1.4h-1.4zM583.5 534.2h1.4v1.4h-1.4zM586.4 534.4h1.4v1.4h-1.4zM577.7 536.9h1.4v1.4h-1.4zM580.6 537.0h1.4v1.4h-1.4zM583.5 537.2h1.4v1.4h-1.4zM586.4 537.4h1.4v1.4h-1.4zM577.7 539.9h1.4v1.4h-1.4zM580.6 540.0h1.4v1.4h-1.4zM583.5 540.2h1.4v1.4h-1.4zM586.4 540.4h1.4v1.4h-1.4zM577.7 542.9h1.4v1.4h-1.4zM580.6 543.0h1.4v1.4h-1.4zM583.5 543.2h1.4v1.4h-1.4zM586.4 543.4h1.4v1.4h-1.4zM591.3 534.6h1.4v1.4h-1.4zM594.2 534.8h1.4v1.4h-1.4zM597.1 535.0h1.4v1.4h-1.4zM600.0 535.1h1.4v1.4h-1.4zM591.3 537.6h1.4v1.4h-1.4zM594.2 537.8h1.4v1.4h-1.4zM597.1 538.0h1.4v1.4h-1.4zM600.0 538.2h1.4v1.4h-1.4zM591.3 540.7h1.4v1.4h-1.4zM594.2 540.8h1.4v1.4h-1.4zM597.1 541.0h1.4v1.4h-1.4zM600.0 541.2h1.4v1.4h-1.4zM591.3 543.7h1.4v1.4h-1.4zM594.2 543.9h1.4v1.4h-1.4zM597.1 544.0h1.4v1.4h-1.4zM600.0 544.2h1.4v1.4h-1.4zM604.9 535.4h1.4v1.4h-1.4zM607.8 535.6h1.4v1.4h-1.4zM610.7 535.8h1.4v1.4h-1.4zM613.6 535.9h1.4v1.4h-1.4zM604.9 538.4h1.4v1.4h-1.4zM607.8 538.6h1.4v1.4h-1.4zM610.7 538.8h1.4v1.4h-1.4zM613.6 539.0h1.4v1.4h-1.4zM604.9 541.5h1.4v1.4h-1.4zM607.8 541.6h1.4v1.4h-1.4zM610.7 541.8h1.4v1.4h-1.4zM613.6 542.0h1.4v1.4h-1.4zM604.9 544.5h1.4v1.4h-1.4zM607.8 544.7h1.4v1.4h-1.4zM610.7 544.8h1.4v1.4h-1.4zM613.6 545.0h1.4v1.4h-1.4z" fill="#737373"/>
<!-- side screws -->
<g fill="#9a9a9a">
<rect x="649" y="339" width="1" height="1.2"/><rect x="647" y="354" width="1" height="1.2"/>
<rect x="647" y="390" width="1" height="1.2"/><rect x="649" y="404.5" width="1" height="1.2"/>
<rect x="649" y="431.5" width="1" height="1.2"/>
</g>
<!-- caster plates -->
<rect x="475" y="551" width="21.5" height="3.2" fill="#d2d2d2"/>
<rect x="610.7" y="559.3" width="20.8" height="3" fill="#d2d2d2"/>
<rect x="483.2" y="554" width="5.3" height="4.5" fill="#cbcbcb"/>
<rect x="614" y="562" width="5" height="4.5" fill="#cbcbcb"/>
<!-- forks -->
<polygon points="489,557.5 496.5,556.5 501,566 499,569.5 494,567" fill="#c2c2c2"/>
<polygon points="516,553 523,552.5 527,561 524.5,564 520,562" fill="#c0c0c0"/>
<polygon points="625,566 632,565 637,575 634.5,578.5 630,576" fill="#c2c2c2"/>
<polygon points="650,558 656,557.5 661,567 658.5,570.5 654,568" fill="#c8c8c8"/>
<!-- wheels -->
<ellipse cx="513.7" cy="559.75" rx="6.8" ry="6.6" fill="#262626"/>
<ellipse cx="513.1" cy="559.6" rx="4.9" ry="5.1" fill="url(#hubD)"/>
<ellipse cx="647" cy="567" rx="7.05" ry="7.0" fill="#262626"/>
<ellipse cx="646.4" cy="566.9" rx="5.0" ry="5.4" fill="url(#hubD)"/>
<ellipse cx="487.85" cy="566.1" rx="7.05" ry="7.3" fill="#262626"/>
<ellipse cx="487.2" cy="566.0" rx="5.1" ry="5.6" fill="url(#hubL)"/>
<ellipse cx="624.2" cy="574.2" rx="7.3" ry="7.3" fill="#262626"/>
<ellipse cx="623.6" cy="574.1" rx="5.3" ry="5.6" fill="url(#hubL)"/>
<!-- dimension lines -->
<path d="M466 180.5H456.2V560.7H462.6" fill="none" stroke="#444" stroke-width="1.45"/>
<path d="M461 572.4V579L618.3 591.4L618.6 584.6L624.7 587.3L664.7 576.5L667.6 571.8" fill="none" stroke="#2a2a2a" stroke-width="1.5" stroke-linejoin="miter"/>
</svg>

<div class="dim" style="left:408.6px;top:298.27px;font-size:19.8px;letter-spacing:0px">1245</div>
<div class="dim" style="left:407.6px;top:322.07px;transform:scaleX(1.12);transform-origin:0 0">mm</div>
<div class="dim" style="left:505px;top:600.17px;letter-spacing:0.85px">320mm</div>

<div class="dim" style="left:0;top:0;font-size:16.8px;line-height:16px;color:#333;transform-origin:0 0;transform:translate(624.7px,613.0px) rotate(-19.5deg) scaleX(0.915) translate(0,-14.0px);filter:grayscale(1)">575mm</div>
</body></html>
